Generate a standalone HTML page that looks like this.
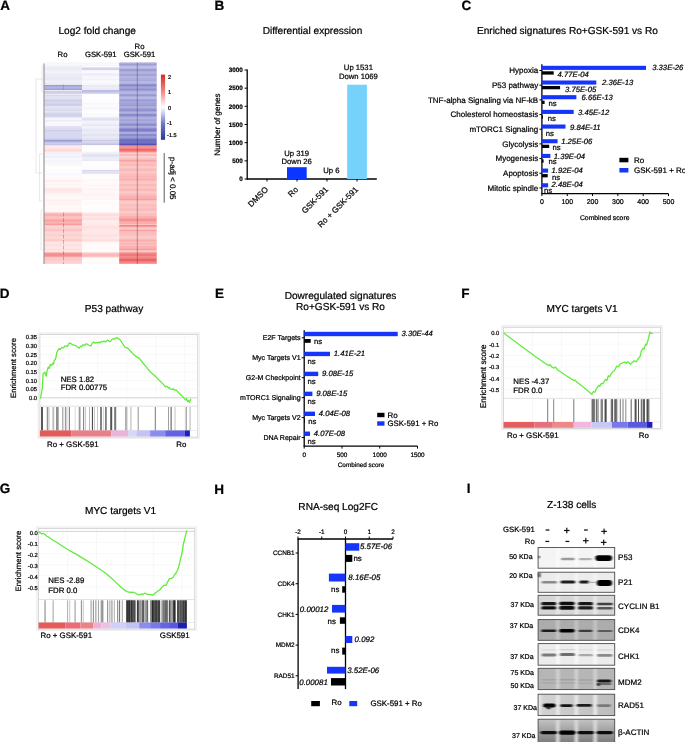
<!DOCTYPE html>
<html><head><meta charset="utf-8"><style>
html,body{margin:0;padding:0;background:#fff;}
svg{display:block;font-family:"Liberation Sans",sans-serif;will-change:transform;}
text{stroke:#000;stroke-width:0.22px;text-rendering:geometricPrecision;}
</style></head><body>
<svg width="685" height="742" viewBox="0 0 685 742">
<rect width="685" height="742" fill="#fff"/>
<text x="0.20" y="10.00" font-size="13.5" font-weight="bold">A</text>
<text x="214.40" y="10.20" font-size="13.5" font-weight="bold">B</text>
<text x="461.60" y="10.40" font-size="13.5" font-weight="bold">C</text>
<text x="-0.20" y="298.00" font-size="13.5" font-weight="bold">D</text>
<text x="214.90" y="297.80" font-size="13.5" font-weight="bold">E</text>
<text x="461.20" y="297.80" font-size="13.5" font-weight="bold">F</text>
<text x="-0.20" y="493.30" font-size="13.5" font-weight="bold">G</text>
<text x="214.30" y="493.50" font-size="13.5" font-weight="bold">H</text>
<text x="466.70" y="492.70" font-size="13.5" font-weight="bold">I</text>
<text x="97.20" y="33.84" font-size="10.1" text-anchor="middle">Log2 fold change</text>
<text x="62.50" y="57.30" font-size="7.7" text-anchor="middle">Ro</text>
<text x="100.80" y="57.30" font-size="7.7" text-anchor="middle">GSK-591</text>
<text x="139.50" y="48.59" font-size="7.7" text-anchor="middle">Ro</text>
<text x="139.50" y="57.30" font-size="7.7" text-anchor="middle">GSK-591</text>
<rect x="44.40" y="62.50" width="37.60" height="1.30" fill="#f6f6fb"/>
<rect x="44.40" y="63.75" width="37.60" height="1.30" fill="#f8f8fc"/>
<rect x="44.40" y="65.00" width="37.60" height="1.30" fill="#f6f6fb"/>
<rect x="44.40" y="66.25" width="37.60" height="1.30" fill="#eaeaf6"/>
<rect x="44.40" y="67.50" width="37.60" height="1.30" fill="#e8e8f5"/>
<rect x="44.40" y="68.75" width="37.60" height="1.30" fill="#eaeaf6"/>
<rect x="44.40" y="70.00" width="37.60" height="1.30" fill="#f2f2f9"/>
<rect x="44.40" y="71.25" width="37.60" height="1.30" fill="#f0f0f9"/>
<rect x="44.40" y="72.50" width="37.60" height="1.30" fill="#ededf8"/>
<rect x="44.40" y="73.75" width="37.60" height="1.30" fill="#ebebf7"/>
<rect x="44.40" y="75.00" width="37.60" height="1.30" fill="#ececf7"/>
<rect x="44.40" y="76.25" width="37.60" height="1.30" fill="#e7e7f5"/>
<rect x="44.40" y="77.50" width="37.60" height="1.30" fill="#e2e2f3"/>
<rect x="44.40" y="78.75" width="37.60" height="1.30" fill="#e9e9f6"/>
<rect x="44.40" y="80.00" width="37.60" height="1.30" fill="#ececf7"/>
<rect x="44.40" y="81.25" width="37.60" height="1.30" fill="#ececf7"/>
<rect x="44.40" y="82.50" width="37.60" height="1.30" fill="#e6e6f5"/>
<rect x="44.40" y="83.75" width="37.60" height="1.30" fill="#e6e6f5"/>
<rect x="44.40" y="85.00" width="37.60" height="1.30" fill="#9b9bd6"/>
<rect x="44.40" y="86.25" width="37.60" height="1.30" fill="#9d9dd6"/>
<rect x="44.40" y="87.50" width="37.60" height="1.30" fill="#a1a1d8"/>
<rect x="44.40" y="88.75" width="37.60" height="1.30" fill="#9f9fd7"/>
<rect x="44.40" y="90.00" width="37.60" height="1.30" fill="#ececf7"/>
<rect x="44.40" y="91.25" width="37.60" height="1.30" fill="#bebee4"/>
<rect x="44.40" y="92.50" width="37.60" height="1.30" fill="#c3c3e6"/>
<rect x="44.40" y="93.75" width="37.60" height="1.30" fill="#ececf7"/>
<rect x="44.40" y="95.00" width="37.60" height="1.30" fill="#d7d7ee"/>
<rect x="44.40" y="96.25" width="37.60" height="1.30" fill="#ddddf1"/>
<rect x="44.40" y="97.50" width="37.60" height="1.30" fill="#dadaf0"/>
<rect x="44.40" y="98.75" width="37.60" height="1.30" fill="#dcdcf0"/>
<rect x="44.40" y="100.00" width="37.60" height="1.30" fill="#cbcbe9"/>
<rect x="44.40" y="101.25" width="37.60" height="1.30" fill="#cacae9"/>
<rect x="44.40" y="102.50" width="37.60" height="1.30" fill="#ccccea"/>
<rect x="44.40" y="103.75" width="37.60" height="1.30" fill="#cdcdea"/>
<rect x="44.40" y="105.00" width="37.60" height="1.30" fill="#d1d1ec"/>
<rect x="44.40" y="106.25" width="37.60" height="1.30" fill="#dedef1"/>
<rect x="44.40" y="107.50" width="37.60" height="1.30" fill="#dcdcf0"/>
<rect x="44.40" y="108.75" width="37.60" height="1.30" fill="#dadaf0"/>
<rect x="44.40" y="110.00" width="37.60" height="1.30" fill="#dbdbf0"/>
<rect x="44.40" y="111.25" width="37.60" height="1.30" fill="#e0e0f2"/>
<rect x="44.40" y="112.50" width="37.60" height="1.30" fill="#cdcdea"/>
<rect x="44.40" y="113.75" width="37.60" height="1.30" fill="#d2d2ec"/>
<rect x="44.40" y="115.00" width="37.60" height="1.30" fill="#d3d3ed"/>
<rect x="44.40" y="116.25" width="37.60" height="1.30" fill="#c9c9e9"/>
<rect x="44.40" y="117.50" width="37.60" height="1.30" fill="#f1f1f9"/>
<rect x="44.40" y="118.75" width="37.60" height="1.30" fill="#f5f5fb"/>
<rect x="44.40" y="120.00" width="37.60" height="1.30" fill="#ececf7"/>
<rect x="44.40" y="121.25" width="37.60" height="1.30" fill="#f0f0f9"/>
<rect x="44.40" y="122.50" width="37.60" height="1.30" fill="#f7f7fb"/>
<rect x="44.40" y="123.75" width="37.60" height="1.30" fill="#f5f5fb"/>
<rect x="44.40" y="125.00" width="37.60" height="1.30" fill="#f8f8fc"/>
<rect x="44.40" y="126.25" width="37.60" height="1.30" fill="#d9d9ef"/>
<rect x="44.40" y="127.50" width="37.60" height="1.30" fill="#d5d5ed"/>
<rect x="44.40" y="128.75" width="37.60" height="1.30" fill="#dbdbf0"/>
<rect x="44.40" y="130.00" width="37.60" height="1.30" fill="#ccccea"/>
<rect x="44.40" y="131.25" width="37.60" height="1.30" fill="#cdcdea"/>
<rect x="44.40" y="132.50" width="37.60" height="1.30" fill="#cfcfeb"/>
<rect x="44.40" y="133.75" width="37.60" height="1.30" fill="#d8d8ef"/>
<rect x="44.40" y="135.00" width="37.60" height="1.30" fill="#d7d7ee"/>
<rect x="44.40" y="136.25" width="37.60" height="1.30" fill="#d0d0eb"/>
<rect x="44.40" y="137.50" width="37.60" height="1.30" fill="#cbcbea"/>
<rect x="44.40" y="138.75" width="37.60" height="1.30" fill="#c5c5e7"/>
<rect x="44.40" y="140.00" width="37.60" height="1.30" fill="#9d9dd6"/>
<rect x="44.40" y="141.25" width="37.60" height="1.30" fill="#9999d5"/>
<rect x="44.40" y="142.50" width="37.60" height="1.30" fill="#c4c4e6"/>
<rect x="44.40" y="143.75" width="37.60" height="1.30" fill="#c6c6e7"/>
<rect x="44.40" y="145.00" width="37.60" height="1.30" fill="#fedada"/>
<rect x="44.40" y="146.25" width="37.60" height="1.30" fill="#ffe6e6"/>
<rect x="44.40" y="147.50" width="37.60" height="1.30" fill="#fee4e4"/>
<rect x="44.40" y="148.75" width="37.60" height="1.30" fill="#fedede"/>
<rect x="44.40" y="150.00" width="37.60" height="1.30" fill="#fed9d9"/>
<rect x="44.40" y="151.25" width="37.60" height="1.30" fill="#fedddd"/>
<rect x="44.40" y="152.50" width="37.60" height="1.30" fill="#f2f2f9"/>
<rect x="44.40" y="153.75" width="37.60" height="1.30" fill="#f0f0f9"/>
<rect x="44.40" y="155.00" width="37.60" height="1.30" fill="#f8f8fc"/>
<rect x="44.40" y="156.25" width="37.60" height="1.30" fill="#e8e8f6"/>
<rect x="44.40" y="157.50" width="37.60" height="1.30" fill="#f4f4fa"/>
<rect x="44.40" y="158.75" width="37.60" height="1.30" fill="#f9f9fd"/>
<rect x="44.40" y="160.00" width="37.60" height="1.30" fill="#f4f4fb"/>
<rect x="44.40" y="161.25" width="37.60" height="1.30" fill="#f2f2fa"/>
<rect x="44.40" y="162.50" width="37.60" height="1.30" fill="#f7f7fc"/>
<rect x="44.40" y="163.75" width="37.60" height="1.30" fill="#f8f8fc"/>
<rect x="44.40" y="165.00" width="37.60" height="1.30" fill="#fbfbfd"/>
<rect x="44.40" y="166.25" width="37.60" height="1.30" fill="#fffefe"/>
<rect x="44.40" y="167.50" width="37.60" height="1.30" fill="#fffefe"/>
<rect x="44.40" y="168.75" width="37.60" height="1.30" fill="#fffefe"/>
<rect x="44.40" y="170.00" width="37.60" height="1.30" fill="#fbfbfd"/>
<rect x="44.40" y="171.25" width="37.60" height="1.30" fill="#fffcfc"/>
<rect x="44.40" y="172.50" width="37.60" height="1.30" fill="#f9f9fd"/>
<rect x="44.40" y="173.75" width="37.60" height="1.30" fill="#f8f8fc"/>
<rect x="44.40" y="175.00" width="37.60" height="1.30" fill="#fffbfb"/>
<rect x="44.40" y="176.25" width="37.60" height="1.30" fill="#fff8f8"/>
<rect x="44.40" y="177.50" width="37.60" height="1.30" fill="#fff5f5"/>
<rect x="44.40" y="178.75" width="37.60" height="1.30" fill="#fffafa"/>
<rect x="44.40" y="180.00" width="37.60" height="1.30" fill="#ffefef"/>
<rect x="44.40" y="181.25" width="37.60" height="1.30" fill="#ffeded"/>
<rect x="44.40" y="182.50" width="37.60" height="1.30" fill="#fff9f9"/>
<rect x="44.40" y="183.75" width="37.60" height="1.30" fill="#fff3f3"/>
<rect x="44.40" y="185.00" width="37.60" height="1.30" fill="#fff5f5"/>
<rect x="44.40" y="186.25" width="37.60" height="1.30" fill="#fff7f7"/>
<rect x="44.40" y="187.50" width="37.60" height="1.30" fill="#ffe7e7"/>
<rect x="44.40" y="188.75" width="37.60" height="1.30" fill="#ffe6e6"/>
<rect x="44.40" y="190.00" width="37.60" height="1.30" fill="#ffe7e7"/>
<rect x="44.40" y="191.25" width="37.60" height="1.30" fill="#fee5e5"/>
<rect x="44.40" y="192.50" width="37.60" height="1.30" fill="#ffe9e9"/>
<rect x="44.40" y="193.75" width="37.60" height="1.30" fill="#fff7f7"/>
<rect x="44.40" y="195.00" width="37.60" height="1.30" fill="#fff4f4"/>
<rect x="44.40" y="196.25" width="37.60" height="1.30" fill="#fff6f6"/>
<rect x="44.40" y="197.50" width="37.60" height="1.30" fill="#fff8f8"/>
<rect x="44.40" y="198.75" width="37.60" height="1.30" fill="#fff4f4"/>
<rect x="44.40" y="200.00" width="37.60" height="1.30" fill="#ffefef"/>
<rect x="44.40" y="201.25" width="37.60" height="1.30" fill="#fff3f3"/>
<rect x="44.40" y="202.50" width="37.60" height="1.30" fill="#fff5f5"/>
<rect x="44.40" y="203.75" width="37.60" height="1.30" fill="#fff2f2"/>
<rect x="44.40" y="205.00" width="37.60" height="1.30" fill="#fff7f7"/>
<rect x="44.40" y="206.25" width="37.60" height="1.30" fill="#fff7f7"/>
<rect x="44.40" y="207.50" width="37.60" height="1.30" fill="#fff3f3"/>
<rect x="44.40" y="208.75" width="37.60" height="1.30" fill="#fff9f9"/>
<rect x="44.40" y="210.00" width="37.60" height="1.30" fill="#fff4f4"/>
<rect x="44.40" y="211.25" width="37.60" height="1.30" fill="#fff9f9"/>
<rect x="44.40" y="212.50" width="37.60" height="1.30" fill="#fbb7b7"/>
<rect x="44.40" y="213.75" width="37.60" height="1.30" fill="#fab1b1"/>
<rect x="44.40" y="215.00" width="37.60" height="1.30" fill="#fab0b0"/>
<rect x="44.40" y="216.25" width="37.60" height="1.30" fill="#fab1b1"/>
<rect x="44.40" y="217.50" width="37.60" height="1.30" fill="#fbb2b2"/>
<rect x="44.40" y="218.75" width="37.60" height="1.30" fill="#fbb3b3"/>
<rect x="44.40" y="220.00" width="37.60" height="1.30" fill="#f89e9e"/>
<rect x="44.40" y="221.25" width="37.60" height="1.30" fill="#f89c9c"/>
<rect x="44.40" y="222.50" width="37.60" height="1.30" fill="#f89f9f"/>
<rect x="44.40" y="223.75" width="37.60" height="1.30" fill="#f89d9d"/>
<rect x="44.40" y="225.00" width="37.60" height="1.30" fill="#fdc7c7"/>
<rect x="44.40" y="226.25" width="37.60" height="1.30" fill="#fdc9c9"/>
<rect x="44.40" y="227.50" width="37.60" height="1.30" fill="#fdc6c6"/>
<rect x="44.40" y="228.75" width="37.60" height="1.30" fill="#fdc7c7"/>
<rect x="44.40" y="230.00" width="37.60" height="1.30" fill="#fcc2c2"/>
<rect x="44.40" y="231.25" width="37.60" height="1.30" fill="#fdc8c8"/>
<rect x="44.40" y="232.50" width="37.60" height="1.30" fill="#fdd0d0"/>
<rect x="44.40" y="233.75" width="37.60" height="1.30" fill="#fdd0d0"/>
<rect x="44.40" y="235.00" width="37.60" height="1.30" fill="#fdcfcf"/>
<rect x="44.40" y="236.25" width="37.60" height="1.30" fill="#fdcbcb"/>
<rect x="44.40" y="237.50" width="37.60" height="1.30" fill="#fdd0d0"/>
<rect x="44.40" y="238.75" width="37.60" height="1.30" fill="#fdcdcd"/>
<rect x="44.40" y="240.00" width="37.60" height="1.30" fill="#fdc8c8"/>
<rect x="44.40" y="241.25" width="37.60" height="1.30" fill="#fed8d8"/>
<rect x="44.40" y="242.50" width="37.60" height="1.30" fill="#fee3e3"/>
<rect x="44.40" y="243.75" width="37.60" height="1.30" fill="#fee0e0"/>
<rect x="44.40" y="245.00" width="37.60" height="1.30" fill="#fee0e0"/>
<rect x="44.40" y="246.25" width="37.60" height="1.30" fill="#fee0e0"/>
<rect x="44.40" y="247.50" width="37.60" height="1.30" fill="#fee2e2"/>
<rect x="44.40" y="248.75" width="37.60" height="1.30" fill="#fedfdf"/>
<rect x="44.40" y="250.00" width="37.60" height="1.30" fill="#fee0e0"/>
<rect x="44.40" y="251.25" width="37.60" height="1.30" fill="#fee2e2"/>
<rect x="44.40" y="252.50" width="37.60" height="1.30" fill="#f48585"/>
<rect x="44.40" y="253.75" width="37.60" height="1.30" fill="#f58d8d"/>
<rect x="44.40" y="255.00" width="37.60" height="1.30" fill="#f69090"/>
<rect x="44.40" y="256.25" width="37.60" height="1.30" fill="#f58e8e"/>
<rect x="44.40" y="257.50" width="37.60" height="1.30" fill="#fcc5c5"/>
<rect x="44.40" y="258.75" width="37.60" height="1.30" fill="#fcc4c4"/>
<rect x="44.40" y="260.00" width="37.60" height="1.30" fill="#fdcece"/>
<rect x="44.40" y="261.25" width="37.60" height="1.30" fill="#fdc6c6"/>
<rect x="44.40" y="262.50" width="37.60" height="1.30" fill="#fcc0c0"/>
<rect x="44.40" y="263.75" width="37.60" height="0.30" fill="#fcfcfe"/>
<rect x="82.00" y="62.50" width="37.20" height="1.30" fill="#f5f5fb"/>
<rect x="82.00" y="63.75" width="37.20" height="1.30" fill="#f8f8fc"/>
<rect x="82.00" y="65.00" width="37.20" height="1.30" fill="#f8f8fc"/>
<rect x="82.00" y="66.25" width="37.20" height="1.30" fill="#fafafd"/>
<rect x="82.00" y="67.50" width="37.20" height="1.30" fill="#cbcbe9"/>
<rect x="82.00" y="68.75" width="37.20" height="1.30" fill="#d2d2ec"/>
<rect x="82.00" y="70.00" width="37.20" height="1.30" fill="#f5f5fb"/>
<rect x="82.00" y="71.25" width="37.20" height="1.30" fill="#f7f7fc"/>
<rect x="82.00" y="72.50" width="37.20" height="1.30" fill="#f4f4fb"/>
<rect x="82.00" y="73.75" width="37.20" height="1.30" fill="#eaeaf6"/>
<rect x="82.00" y="75.00" width="37.20" height="1.30" fill="#f4f4fb"/>
<rect x="82.00" y="76.25" width="37.20" height="1.30" fill="#f1f1f9"/>
<rect x="82.00" y="77.50" width="37.20" height="1.30" fill="#f7f7fc"/>
<rect x="82.00" y="78.75" width="37.20" height="1.30" fill="#f1f1f9"/>
<rect x="82.00" y="80.00" width="37.20" height="1.30" fill="#f7f7fc"/>
<rect x="82.00" y="81.25" width="37.20" height="1.30" fill="#fafafd"/>
<rect x="82.00" y="82.50" width="37.20" height="1.30" fill="#f6f6fb"/>
<rect x="82.00" y="83.75" width="37.20" height="1.30" fill="#f6f6fb"/>
<rect x="82.00" y="85.00" width="37.20" height="1.30" fill="#e9e9f6"/>
<rect x="82.00" y="86.25" width="37.20" height="1.30" fill="#e7e7f5"/>
<rect x="82.00" y="87.50" width="37.20" height="1.30" fill="#e6e6f5"/>
<rect x="82.00" y="88.75" width="37.20" height="1.30" fill="#ebebf7"/>
<rect x="82.00" y="90.00" width="37.20" height="1.30" fill="#b9b9e2"/>
<rect x="82.00" y="91.25" width="37.20" height="1.30" fill="#b2b2df"/>
<rect x="82.00" y="92.50" width="37.20" height="1.30" fill="#c1c1e5"/>
<rect x="82.00" y="93.75" width="37.20" height="1.30" fill="#fcfcfe"/>
<rect x="82.00" y="95.00" width="37.20" height="1.30" fill="#fffdfd"/>
<rect x="82.00" y="96.25" width="37.20" height="1.30" fill="#fefeff"/>
<rect x="82.00" y="97.50" width="37.20" height="1.30" fill="#ffffff"/>
<rect x="82.00" y="98.75" width="37.20" height="1.30" fill="#fffdfd"/>
<rect x="82.00" y="100.00" width="37.20" height="1.30" fill="#fcfcfe"/>
<rect x="82.00" y="101.25" width="37.20" height="1.30" fill="#fdfdfe"/>
<rect x="82.00" y="102.50" width="37.20" height="1.30" fill="#f7f7fc"/>
<rect x="82.00" y="103.75" width="37.20" height="1.30" fill="#f7f7fc"/>
<rect x="82.00" y="105.00" width="37.20" height="1.30" fill="#fdfdfe"/>
<rect x="82.00" y="106.25" width="37.20" height="1.30" fill="#f8f8fc"/>
<rect x="82.00" y="107.50" width="37.20" height="1.30" fill="#f8f8fc"/>
<rect x="82.00" y="108.75" width="37.20" height="1.30" fill="#f7f7fc"/>
<rect x="82.00" y="110.00" width="37.20" height="1.30" fill="#fefeff"/>
<rect x="82.00" y="111.25" width="37.20" height="1.30" fill="#fdfdfe"/>
<rect x="82.00" y="112.50" width="37.20" height="1.30" fill="#ffffff"/>
<rect x="82.00" y="113.75" width="37.20" height="1.30" fill="#f8f8fc"/>
<rect x="82.00" y="115.00" width="37.20" height="1.30" fill="#fbfbfd"/>
<rect x="82.00" y="116.25" width="37.20" height="1.30" fill="#f8f8fc"/>
<rect x="82.00" y="117.50" width="37.20" height="1.30" fill="#dedef1"/>
<rect x="82.00" y="118.75" width="37.20" height="1.30" fill="#e0e0f2"/>
<rect x="82.00" y="120.00" width="37.20" height="1.30" fill="#e9e9f6"/>
<rect x="82.00" y="121.25" width="37.20" height="1.30" fill="#f0f0f9"/>
<rect x="82.00" y="122.50" width="37.20" height="1.30" fill="#efeff8"/>
<rect x="82.00" y="123.75" width="37.20" height="1.30" fill="#ebebf7"/>
<rect x="82.00" y="125.00" width="37.20" height="1.30" fill="#e6e6f5"/>
<rect x="82.00" y="126.25" width="37.20" height="1.30" fill="#f0f0f9"/>
<rect x="82.00" y="127.50" width="37.20" height="1.30" fill="#ececf7"/>
<rect x="82.00" y="128.75" width="37.20" height="1.30" fill="#eaeaf6"/>
<rect x="82.00" y="130.00" width="37.20" height="1.30" fill="#e6e6f5"/>
<rect x="82.00" y="131.25" width="37.20" height="1.30" fill="#e6e6f5"/>
<rect x="82.00" y="132.50" width="37.20" height="1.30" fill="#e9e9f6"/>
<rect x="82.00" y="133.75" width="37.20" height="1.30" fill="#e2e2f3"/>
<rect x="82.00" y="135.00" width="37.20" height="1.30" fill="#e3e3f3"/>
<rect x="82.00" y="136.25" width="37.20" height="1.30" fill="#e4e4f4"/>
<rect x="82.00" y="137.50" width="37.20" height="1.30" fill="#e4e4f4"/>
<rect x="82.00" y="138.75" width="37.20" height="1.30" fill="#dfdff2"/>
<rect x="82.00" y="140.00" width="37.20" height="1.30" fill="#cacae9"/>
<rect x="82.00" y="141.25" width="37.20" height="1.30" fill="#d3d3ed"/>
<rect x="82.00" y="142.50" width="37.20" height="1.30" fill="#c2c2e6"/>
<rect x="82.00" y="143.75" width="37.20" height="1.30" fill="#c2c2e6"/>
<rect x="82.00" y="145.00" width="37.20" height="1.30" fill="#fff9f9"/>
<rect x="82.00" y="146.25" width="37.20" height="1.30" fill="#fffcfc"/>
<rect x="82.00" y="147.50" width="37.20" height="1.30" fill="#fdfdfe"/>
<rect x="82.00" y="148.75" width="37.20" height="1.30" fill="#fffdfd"/>
<rect x="82.00" y="150.00" width="37.20" height="1.30" fill="#fefeff"/>
<rect x="82.00" y="151.25" width="37.20" height="1.30" fill="#fffafa"/>
<rect x="82.00" y="152.50" width="37.20" height="1.30" fill="#eaeaf6"/>
<rect x="82.00" y="153.75" width="37.20" height="1.30" fill="#e7e7f5"/>
<rect x="82.00" y="155.00" width="37.20" height="1.30" fill="#dedef1"/>
<rect x="82.00" y="156.25" width="37.20" height="1.30" fill="#e0e0f2"/>
<rect x="82.00" y="157.50" width="37.20" height="1.30" fill="#e9e9f6"/>
<rect x="82.00" y="158.75" width="37.20" height="1.30" fill="#ededf7"/>
<rect x="82.00" y="160.00" width="37.20" height="1.30" fill="#e9e9f6"/>
<rect x="82.00" y="161.25" width="37.20" height="1.30" fill="#fffdfd"/>
<rect x="82.00" y="162.50" width="37.20" height="1.30" fill="#fffcfc"/>
<rect x="82.00" y="163.75" width="37.20" height="1.30" fill="#fffcfc"/>
<rect x="82.00" y="165.00" width="37.20" height="1.30" fill="#fdfdfe"/>
<rect x="82.00" y="166.25" width="37.20" height="1.30" fill="#fffdfd"/>
<rect x="82.00" y="167.50" width="37.20" height="1.30" fill="#fafafd"/>
<rect x="82.00" y="168.75" width="37.20" height="1.30" fill="#fcfcfe"/>
<rect x="82.00" y="170.00" width="37.20" height="1.30" fill="#d6d6ee"/>
<rect x="82.00" y="171.25" width="37.20" height="1.30" fill="#dedef1"/>
<rect x="82.00" y="172.50" width="37.20" height="1.30" fill="#d8d8ef"/>
<rect x="82.00" y="173.75" width="37.20" height="1.30" fill="#fffbfb"/>
<rect x="82.00" y="175.00" width="37.20" height="1.30" fill="#fffbfb"/>
<rect x="82.00" y="176.25" width="37.20" height="1.30" fill="#fffbfb"/>
<rect x="82.00" y="177.50" width="37.20" height="1.30" fill="#fffcfc"/>
<rect x="82.00" y="178.75" width="37.20" height="1.30" fill="#fffafa"/>
<rect x="82.00" y="180.00" width="37.20" height="1.30" fill="#fff7f7"/>
<rect x="82.00" y="181.25" width="37.20" height="1.30" fill="#fffbfb"/>
<rect x="82.00" y="182.50" width="37.20" height="1.30" fill="#fffafa"/>
<rect x="82.00" y="183.75" width="37.20" height="1.30" fill="#fff9f9"/>
<rect x="82.00" y="185.00" width="37.20" height="1.30" fill="#fff5f5"/>
<rect x="82.00" y="186.25" width="37.20" height="1.30" fill="#fff7f7"/>
<rect x="82.00" y="187.50" width="37.20" height="1.30" fill="#fff5f5"/>
<rect x="82.00" y="188.75" width="37.20" height="1.30" fill="#fff2f2"/>
<rect x="82.00" y="190.00" width="37.20" height="1.30" fill="#fff8f8"/>
<rect x="82.00" y="191.25" width="37.20" height="1.30" fill="#fff6f6"/>
<rect x="82.00" y="192.50" width="37.20" height="1.30" fill="#fff2f2"/>
<rect x="82.00" y="193.75" width="37.20" height="1.30" fill="#fff3f3"/>
<rect x="82.00" y="195.00" width="37.20" height="1.30" fill="#fff4f4"/>
<rect x="82.00" y="196.25" width="37.20" height="1.30" fill="#fff3f3"/>
<rect x="82.00" y="197.50" width="37.20" height="1.30" fill="#fff4f4"/>
<rect x="82.00" y="198.75" width="37.20" height="1.30" fill="#fff7f7"/>
<rect x="82.00" y="200.00" width="37.20" height="1.30" fill="#fffdfd"/>
<rect x="82.00" y="201.25" width="37.20" height="1.30" fill="#fffbfb"/>
<rect x="82.00" y="202.50" width="37.20" height="1.30" fill="#fff8f8"/>
<rect x="82.00" y="203.75" width="37.20" height="1.30" fill="#fffbfb"/>
<rect x="82.00" y="205.00" width="37.20" height="1.30" fill="#fffcfc"/>
<rect x="82.00" y="206.25" width="37.20" height="1.30" fill="#fffbfb"/>
<rect x="82.00" y="207.50" width="37.20" height="1.30" fill="#fffdfd"/>
<rect x="82.00" y="208.75" width="37.20" height="1.30" fill="#fffafa"/>
<rect x="82.00" y="210.00" width="37.20" height="1.30" fill="#fffcfc"/>
<rect x="82.00" y="211.25" width="37.20" height="1.30" fill="#fff9f9"/>
<rect x="82.00" y="212.50" width="37.20" height="1.30" fill="#ffe5e5"/>
<rect x="82.00" y="213.75" width="37.20" height="1.30" fill="#fedbdb"/>
<rect x="82.00" y="215.00" width="37.20" height="1.30" fill="#fedfdf"/>
<rect x="82.00" y="216.25" width="37.20" height="1.30" fill="#fee4e4"/>
<rect x="82.00" y="217.50" width="37.20" height="1.30" fill="#fedada"/>
<rect x="82.00" y="218.75" width="37.20" height="1.30" fill="#fedede"/>
<rect x="82.00" y="220.00" width="37.20" height="1.30" fill="#ffecec"/>
<rect x="82.00" y="221.25" width="37.20" height="1.30" fill="#ffe9e9"/>
<rect x="82.00" y="222.50" width="37.20" height="1.30" fill="#ffe7e7"/>
<rect x="82.00" y="223.75" width="37.20" height="1.30" fill="#ffe8e8"/>
<rect x="82.00" y="225.00" width="37.20" height="1.30" fill="#ffe6e6"/>
<rect x="82.00" y="226.25" width="37.20" height="1.30" fill="#fedada"/>
<rect x="82.00" y="227.50" width="37.20" height="1.30" fill="#fedada"/>
<rect x="82.00" y="228.75" width="37.20" height="1.30" fill="#ffe7e7"/>
<rect x="82.00" y="230.00" width="37.20" height="1.30" fill="#fee4e4"/>
<rect x="82.00" y="231.25" width="37.20" height="1.30" fill="#ffe6e6"/>
<rect x="82.00" y="232.50" width="37.20" height="1.30" fill="#fee0e0"/>
<rect x="82.00" y="233.75" width="37.20" height="1.30" fill="#ffe5e5"/>
<rect x="82.00" y="235.00" width="37.20" height="1.30" fill="#fedfdf"/>
<rect x="82.00" y="236.25" width="37.20" height="1.30" fill="#fedede"/>
<rect x="82.00" y="237.50" width="37.20" height="1.30" fill="#fee2e2"/>
<rect x="82.00" y="238.75" width="37.20" height="1.30" fill="#fee2e2"/>
<rect x="82.00" y="240.00" width="37.20" height="1.30" fill="#fedddd"/>
<rect x="82.00" y="241.25" width="37.20" height="1.30" fill="#fee5e5"/>
<rect x="82.00" y="242.50" width="37.20" height="1.30" fill="#fffbfb"/>
<rect x="82.00" y="243.75" width="37.20" height="1.30" fill="#fff7f7"/>
<rect x="82.00" y="245.00" width="37.20" height="1.30" fill="#fffefe"/>
<rect x="82.00" y="246.25" width="37.20" height="1.30" fill="#fffafa"/>
<rect x="82.00" y="247.50" width="37.20" height="1.30" fill="#fff8f8"/>
<rect x="82.00" y="248.75" width="37.20" height="1.30" fill="#fffcfc"/>
<rect x="82.00" y="250.00" width="37.20" height="1.30" fill="#fffbfb"/>
<rect x="82.00" y="251.25" width="37.20" height="1.30" fill="#fffafa"/>
<rect x="82.00" y="252.50" width="37.20" height="1.30" fill="#fcbdbd"/>
<rect x="82.00" y="253.75" width="37.20" height="1.30" fill="#fbb9b9"/>
<rect x="82.00" y="255.00" width="37.20" height="1.30" fill="#fbb8b8"/>
<rect x="82.00" y="256.25" width="37.20" height="1.30" fill="#fbb6b6"/>
<rect x="82.00" y="257.50" width="37.20" height="1.30" fill="#fffafa"/>
<rect x="82.00" y="258.75" width="37.20" height="1.30" fill="#fffafa"/>
<rect x="82.00" y="260.00" width="37.20" height="1.30" fill="#fffcfc"/>
<rect x="82.00" y="261.25" width="37.20" height="1.30" fill="#fffafa"/>
<rect x="82.00" y="262.50" width="37.20" height="1.30" fill="#fff8f8"/>
<rect x="82.00" y="263.75" width="37.20" height="0.30" fill="#ffffff"/>
<rect x="119.20" y="62.50" width="37.50" height="1.30" fill="#9e9ed7"/>
<rect x="119.20" y="63.75" width="37.50" height="1.30" fill="#9e9ed7"/>
<rect x="119.20" y="65.00" width="37.50" height="1.30" fill="#afafde"/>
<rect x="119.20" y="66.25" width="37.50" height="1.30" fill="#b0b0de"/>
<rect x="119.20" y="67.50" width="37.50" height="1.30" fill="#adaddd"/>
<rect x="119.20" y="68.75" width="37.50" height="1.30" fill="#9e9ed7"/>
<rect x="119.20" y="70.00" width="37.50" height="1.30" fill="#9d9dd6"/>
<rect x="119.20" y="71.25" width="37.50" height="1.30" fill="#9c9cd6"/>
<rect x="119.20" y="72.50" width="37.50" height="1.30" fill="#a2a2d8"/>
<rect x="119.20" y="73.75" width="37.50" height="1.30" fill="#a4a4d9"/>
<rect x="119.20" y="75.00" width="37.50" height="1.30" fill="#a2a2d8"/>
<rect x="119.20" y="76.25" width="37.50" height="1.30" fill="#a5a5da"/>
<rect x="119.20" y="77.50" width="37.50" height="1.30" fill="#9e9ed7"/>
<rect x="119.20" y="78.75" width="37.50" height="1.30" fill="#acacdd"/>
<rect x="119.20" y="80.00" width="37.50" height="1.30" fill="#a9a9db"/>
<rect x="119.20" y="81.25" width="37.50" height="1.30" fill="#a4a4d9"/>
<rect x="119.20" y="82.50" width="37.50" height="1.30" fill="#a8a8db"/>
<rect x="119.20" y="83.75" width="37.50" height="1.30" fill="#9595d3"/>
<rect x="119.20" y="85.00" width="37.50" height="1.30" fill="#8585cd"/>
<rect x="119.20" y="86.25" width="37.50" height="1.30" fill="#8989ce"/>
<rect x="119.20" y="87.50" width="37.50" height="1.30" fill="#8e8ed0"/>
<rect x="119.20" y="88.75" width="37.50" height="1.30" fill="#8d8dd0"/>
<rect x="119.20" y="90.00" width="37.50" height="1.30" fill="#a0a0d8"/>
<rect x="119.20" y="91.25" width="37.50" height="1.30" fill="#9d9dd7"/>
<rect x="119.20" y="92.50" width="37.50" height="1.30" fill="#a7a7da"/>
<rect x="119.20" y="93.75" width="37.50" height="1.30" fill="#a2a2d8"/>
<rect x="119.20" y="95.00" width="37.50" height="1.30" fill="#9797d4"/>
<rect x="119.20" y="96.25" width="37.50" height="1.30" fill="#9c9cd6"/>
<rect x="119.20" y="97.50" width="37.50" height="1.30" fill="#aaaadc"/>
<rect x="119.20" y="98.75" width="37.50" height="1.30" fill="#a7a7da"/>
<rect x="119.20" y="100.00" width="37.50" height="1.30" fill="#9898d4"/>
<rect x="119.20" y="101.25" width="37.50" height="1.30" fill="#9393d2"/>
<rect x="119.20" y="102.50" width="37.50" height="1.30" fill="#8b8bcf"/>
<rect x="119.20" y="103.75" width="37.50" height="1.30" fill="#a3a3d9"/>
<rect x="119.20" y="105.00" width="37.50" height="1.30" fill="#9898d4"/>
<rect x="119.20" y="106.25" width="37.50" height="1.30" fill="#9e9ed7"/>
<rect x="119.20" y="107.50" width="37.50" height="1.30" fill="#9191d2"/>
<rect x="119.20" y="108.75" width="37.50" height="1.30" fill="#9494d3"/>
<rect x="119.20" y="110.00" width="37.50" height="1.30" fill="#8e8ed0"/>
<rect x="119.20" y="111.25" width="37.50" height="1.30" fill="#9191d1"/>
<rect x="119.20" y="112.50" width="37.50" height="1.30" fill="#a4a4d9"/>
<rect x="119.20" y="113.75" width="37.50" height="1.30" fill="#8989ce"/>
<rect x="119.20" y="115.00" width="37.50" height="1.30" fill="#8a8ace"/>
<rect x="119.20" y="116.25" width="37.50" height="1.30" fill="#8888ce"/>
<rect x="119.20" y="117.50" width="37.50" height="1.30" fill="#a1a1d8"/>
<rect x="119.20" y="118.75" width="37.50" height="1.30" fill="#a6a6da"/>
<rect x="119.20" y="120.00" width="37.50" height="1.30" fill="#a2a2d9"/>
<rect x="119.20" y="121.25" width="37.50" height="1.30" fill="#9e9ed7"/>
<rect x="119.20" y="122.50" width="37.50" height="1.30" fill="#8989ce"/>
<rect x="119.20" y="123.75" width="37.50" height="1.30" fill="#8c8ccf"/>
<rect x="119.20" y="125.00" width="37.50" height="1.30" fill="#8c8ccf"/>
<rect x="119.20" y="126.25" width="37.50" height="1.30" fill="#a3a3d9"/>
<rect x="119.20" y="127.50" width="37.50" height="1.30" fill="#7d7dc9"/>
<rect x="119.20" y="128.75" width="37.50" height="1.30" fill="#7e7eca"/>
<rect x="119.20" y="130.00" width="37.50" height="1.30" fill="#7d7dc9"/>
<rect x="119.20" y="131.25" width="37.50" height="1.30" fill="#7777c7"/>
<rect x="119.20" y="132.50" width="37.50" height="1.30" fill="#a4a4d9"/>
<rect x="119.20" y="133.75" width="37.50" height="1.30" fill="#8c8ccf"/>
<rect x="119.20" y="135.00" width="37.50" height="1.30" fill="#8989ce"/>
<rect x="119.20" y="136.25" width="37.50" height="1.30" fill="#8686cd"/>
<rect x="119.20" y="137.50" width="37.50" height="1.30" fill="#7878c7"/>
<rect x="119.20" y="138.75" width="37.50" height="1.30" fill="#7272c4"/>
<rect x="119.20" y="140.00" width="37.50" height="1.30" fill="#6d6dc3"/>
<rect x="119.20" y="141.25" width="37.50" height="1.30" fill="#4e4eb5"/>
<rect x="119.20" y="142.50" width="37.50" height="1.30" fill="#4949b3"/>
<rect x="119.20" y="143.75" width="37.50" height="1.30" fill="#5151b7"/>
<rect x="119.20" y="145.00" width="37.50" height="1.30" fill="#f07272"/>
<rect x="119.20" y="146.25" width="37.50" height="1.30" fill="#f17878"/>
<rect x="119.20" y="147.50" width="37.50" height="1.30" fill="#f07272"/>
<rect x="119.20" y="148.75" width="37.50" height="1.30" fill="#ee6868"/>
<rect x="119.20" y="150.00" width="37.50" height="1.30" fill="#ef6f6f"/>
<rect x="119.20" y="151.25" width="37.50" height="1.30" fill="#f07373"/>
<rect x="119.20" y="152.50" width="37.50" height="1.30" fill="#fcbfbf"/>
<rect x="119.20" y="153.75" width="37.50" height="1.30" fill="#fbbaba"/>
<rect x="119.20" y="155.00" width="37.50" height="1.30" fill="#fbbaba"/>
<rect x="119.20" y="156.25" width="37.50" height="1.30" fill="#fdc9c9"/>
<rect x="119.20" y="157.50" width="37.50" height="1.30" fill="#fbb7b7"/>
<rect x="119.20" y="158.75" width="37.50" height="1.30" fill="#fbbaba"/>
<rect x="119.20" y="160.00" width="37.50" height="1.30" fill="#f9a4a4"/>
<rect x="119.20" y="161.25" width="37.50" height="1.30" fill="#f8a1a1"/>
<rect x="119.20" y="162.50" width="37.50" height="1.30" fill="#fbb6b6"/>
<rect x="119.20" y="163.75" width="37.50" height="1.30" fill="#fbb9b9"/>
<rect x="119.20" y="165.00" width="37.50" height="1.30" fill="#fbb8b8"/>
<rect x="119.20" y="166.25" width="37.50" height="1.30" fill="#fcbcbc"/>
<rect x="119.20" y="167.50" width="37.50" height="1.30" fill="#fbb9b9"/>
<rect x="119.20" y="168.75" width="37.50" height="1.30" fill="#fbb5b5"/>
<rect x="119.20" y="170.00" width="37.50" height="1.30" fill="#fcbdbd"/>
<rect x="119.20" y="171.25" width="37.50" height="1.30" fill="#fbb8b8"/>
<rect x="119.20" y="172.50" width="37.50" height="1.30" fill="#fbbaba"/>
<rect x="119.20" y="173.75" width="37.50" height="1.30" fill="#fbb9b9"/>
<rect x="119.20" y="175.00" width="37.50" height="1.30" fill="#fcbdbd"/>
<rect x="119.20" y="176.25" width="37.50" height="1.30" fill="#f9a4a4"/>
<rect x="119.20" y="177.50" width="37.50" height="1.30" fill="#f9a9a9"/>
<rect x="119.20" y="178.75" width="37.50" height="1.30" fill="#faaeae"/>
<rect x="119.20" y="180.00" width="37.50" height="1.30" fill="#fcbcbc"/>
<rect x="119.20" y="181.25" width="37.50" height="1.30" fill="#fbb3b3"/>
<rect x="119.20" y="182.50" width="37.50" height="1.30" fill="#fcbebe"/>
<rect x="119.20" y="183.75" width="37.50" height="1.30" fill="#fbb9b9"/>
<rect x="119.20" y="185.00" width="37.50" height="1.30" fill="#fbb9b9"/>
<rect x="119.20" y="186.25" width="37.50" height="1.30" fill="#fbb4b4"/>
<rect x="119.20" y="187.50" width="37.50" height="1.30" fill="#fbb8b8"/>
<rect x="119.20" y="188.75" width="37.50" height="1.30" fill="#fbb3b3"/>
<rect x="119.20" y="190.00" width="37.50" height="1.30" fill="#fbbbbb"/>
<rect x="119.20" y="191.25" width="37.50" height="1.30" fill="#fbb8b8"/>
<rect x="119.20" y="192.50" width="37.50" height="1.30" fill="#fbb9b9"/>
<rect x="119.20" y="193.75" width="37.50" height="1.30" fill="#fcbcbc"/>
<rect x="119.20" y="195.00" width="37.50" height="1.30" fill="#fbb9b9"/>
<rect x="119.20" y="196.25" width="37.50" height="1.30" fill="#f89c9c"/>
<rect x="119.20" y="197.50" width="37.50" height="1.30" fill="#f89d9d"/>
<rect x="119.20" y="198.75" width="37.50" height="1.30" fill="#f89e9e"/>
<rect x="119.20" y="200.00" width="37.50" height="1.30" fill="#fcbdbd"/>
<rect x="119.20" y="201.25" width="37.50" height="1.30" fill="#fbbaba"/>
<rect x="119.20" y="202.50" width="37.50" height="1.30" fill="#fcc0c0"/>
<rect x="119.20" y="203.75" width="37.50" height="1.30" fill="#fcbfbf"/>
<rect x="119.20" y="205.00" width="37.50" height="1.30" fill="#fcbcbc"/>
<rect x="119.20" y="206.25" width="37.50" height="1.30" fill="#fbb5b5"/>
<rect x="119.20" y="207.50" width="37.50" height="1.30" fill="#fab1b1"/>
<rect x="119.20" y="208.75" width="37.50" height="1.30" fill="#fbb7b7"/>
<rect x="119.20" y="210.00" width="37.50" height="1.30" fill="#fcbfbf"/>
<rect x="119.20" y="211.25" width="37.50" height="1.30" fill="#fbbaba"/>
<rect x="119.20" y="212.50" width="37.50" height="1.30" fill="#fbbaba"/>
<rect x="119.20" y="213.75" width="37.50" height="1.30" fill="#fcbdbd"/>
<rect x="119.20" y="215.00" width="37.50" height="1.30" fill="#fcbdbd"/>
<rect x="119.20" y="216.25" width="37.50" height="1.30" fill="#f89e9e"/>
<rect x="119.20" y="217.50" width="37.50" height="1.30" fill="#f69292"/>
<rect x="119.20" y="218.75" width="37.50" height="1.30" fill="#f69292"/>
<rect x="119.20" y="220.00" width="37.50" height="1.30" fill="#f68f8f"/>
<rect x="119.20" y="221.25" width="37.50" height="1.30" fill="#f79797"/>
<rect x="119.20" y="222.50" width="37.50" height="1.30" fill="#f69494"/>
<rect x="119.20" y="223.75" width="37.50" height="1.30" fill="#fcc3c3"/>
<rect x="119.20" y="225.00" width="37.50" height="1.30" fill="#f48686"/>
<rect x="119.20" y="226.25" width="37.50" height="1.30" fill="#f48585"/>
<rect x="119.20" y="227.50" width="37.50" height="1.30" fill="#fcc3c3"/>
<rect x="119.20" y="228.75" width="37.50" height="1.30" fill="#fcbdbd"/>
<rect x="119.20" y="230.00" width="37.50" height="1.30" fill="#f8a1a1"/>
<rect x="119.20" y="231.25" width="37.50" height="1.30" fill="#faaaaa"/>
<rect x="119.20" y="232.50" width="37.50" height="1.30" fill="#faaaaa"/>
<rect x="119.20" y="233.75" width="37.50" height="1.30" fill="#fcc0c0"/>
<rect x="119.20" y="235.00" width="37.50" height="1.30" fill="#fcbfbf"/>
<rect x="119.20" y="236.25" width="37.50" height="1.30" fill="#fcc2c2"/>
<rect x="119.20" y="237.50" width="37.50" height="1.30" fill="#fcbcbc"/>
<rect x="119.20" y="238.75" width="37.50" height="1.30" fill="#fcbbbb"/>
<rect x="119.20" y="240.00" width="37.50" height="1.30" fill="#faacac"/>
<rect x="119.20" y="241.25" width="37.50" height="1.30" fill="#faacac"/>
<rect x="119.20" y="242.50" width="37.50" height="1.30" fill="#f9a9a9"/>
<rect x="119.20" y="243.75" width="37.50" height="1.30" fill="#fbb8b8"/>
<rect x="119.20" y="245.00" width="37.50" height="1.30" fill="#fcc1c1"/>
<rect x="119.20" y="246.25" width="37.50" height="1.30" fill="#f79b9b"/>
<rect x="119.20" y="247.50" width="37.50" height="1.30" fill="#f89d9d"/>
<rect x="119.20" y="248.75" width="37.50" height="1.30" fill="#f89d9d"/>
<rect x="119.20" y="250.00" width="37.50" height="1.30" fill="#fcbdbd"/>
<rect x="119.20" y="251.25" width="37.50" height="1.30" fill="#fcbcbc"/>
<rect x="119.20" y="252.50" width="37.50" height="1.30" fill="#f07171"/>
<rect x="119.20" y="253.75" width="37.50" height="1.30" fill="#f17979"/>
<rect x="119.20" y="255.00" width="37.50" height="1.30" fill="#f17878"/>
<rect x="119.20" y="256.25" width="37.50" height="1.30" fill="#f07373"/>
<rect x="119.20" y="257.50" width="37.50" height="1.30" fill="#ed6464"/>
<rect x="119.20" y="258.75" width="37.50" height="1.30" fill="#ed6464"/>
<rect x="119.20" y="260.00" width="37.50" height="1.30" fill="#ed6363"/>
<rect x="119.20" y="261.25" width="37.50" height="1.30" fill="#ed6666"/>
<rect x="119.20" y="262.50" width="37.50" height="1.30" fill="#ec6060"/>
<rect x="119.20" y="263.75" width="37.50" height="0.30" fill="#fffefe"/>
<line x1="137.30" y1="62.50" x2="137.30" y2="264.00" stroke="#333" stroke-width="0.7" opacity="0.55"/>
<line x1="63.30" y1="212.50" x2="63.30" y2="264.00" stroke="#444" stroke-width="0.5" stroke-dasharray="4,1.5" opacity="0.8"/>
<line x1="63.30" y1="84.50" x2="63.30" y2="90.00" stroke="#777" stroke-width="0.4"/>
<line x1="44.00" y1="63.50" x2="44.00" y2="264.00" stroke="#333" stroke-width="0.6"/>
<g stroke="#d0d0d0" stroke-width="0.5" fill="none"><path d="M44,79 H36 V173 H44"/><path d="M44,154 H39.6 V201 H44"/><path d="M44,66 H42 V92 H44"/><path d="M44,210 H41 V250 H44"/></g>
<defs><linearGradient id="cb" x1="0" y1="0" x2="0" y2="1"><stop offset="0" stop-color="#d62b24"/><stop offset="0.25" stop-color="#f08480"/><stop offset="0.5" stop-color="#ffffff"/><stop offset="0.75" stop-color="#7078c4"/><stop offset="1" stop-color="#2a389c"/></linearGradient></defs>
<rect x="160.90" y="74.60" width="4.20" height="65.20" fill="url(#cb)"/>
<text x="168.00" y="79.06" font-size="5.6">2</text>
<text x="168.00" y="93.76" font-size="5.6">1</text>
<text x="168.00" y="109.96" font-size="5.6">0</text>
<text x="167.10" y="124.56" font-size="5.6">-1</text>
<text x="167.10" y="136.76" font-size="5.6">-1.5</text>
<line x1="164.20" y1="153.00" x2="164.20" y2="202.70" stroke="#333" stroke-width="0.8"/>
<text x="172.30" y="181.10" font-size="8.0" text-anchor="middle" transform="rotate(90 172.30 178.30)">p-adj &lt; 0.05</text>
<text x="312.50" y="33.63" font-size="10.1" text-anchor="middle">Differential expression</text>
<line x1="247.20" y1="69.50" x2="247.20" y2="179.50" stroke="#000" stroke-width="1.3"/>
<line x1="246.70" y1="179.00" x2="376.80" y2="179.00" stroke="#000" stroke-width="1.3"/>
<line x1="244.60" y1="179.00" x2="247.20" y2="179.00" stroke="#000" stroke-width="1"/>
<text x="242.70" y="181.21" font-size="6.3" text-anchor="end" font-weight="bold">0</text>
<line x1="244.60" y1="160.83" x2="247.20" y2="160.83" stroke="#000" stroke-width="1"/>
<text x="242.70" y="163.04" font-size="6.3" text-anchor="end" font-weight="bold">500</text>
<line x1="244.60" y1="142.67" x2="247.20" y2="142.67" stroke="#000" stroke-width="1"/>
<text x="242.70" y="144.87" font-size="6.3" text-anchor="end" font-weight="bold">1000</text>
<line x1="244.60" y1="124.50" x2="247.20" y2="124.50" stroke="#000" stroke-width="1"/>
<text x="242.70" y="126.70" font-size="6.3" text-anchor="end" font-weight="bold">1500</text>
<line x1="244.60" y1="106.33" x2="247.20" y2="106.33" stroke="#000" stroke-width="1"/>
<text x="242.70" y="108.54" font-size="6.3" text-anchor="end" font-weight="bold">2000</text>
<line x1="244.60" y1="88.17" x2="247.20" y2="88.17" stroke="#000" stroke-width="1"/>
<text x="242.70" y="90.37" font-size="6.3" text-anchor="end" font-weight="bold">2500</text>
<line x1="244.60" y1="70.00" x2="247.20" y2="70.00" stroke="#000" stroke-width="1"/>
<text x="242.70" y="72.20" font-size="6.3" text-anchor="end" font-weight="bold">3000</text>
<line x1="267.00" y1="179.00" x2="267.00" y2="181.50" stroke="#000" stroke-width="1"/>
<line x1="297.00" y1="179.00" x2="297.00" y2="181.50" stroke="#000" stroke-width="1"/>
<line x1="327.00" y1="179.00" x2="327.00" y2="181.50" stroke="#000" stroke-width="1"/>
<line x1="357.00" y1="179.00" x2="357.00" y2="181.50" stroke="#000" stroke-width="1"/>
<rect x="287.00" y="167.20" width="19.70" height="11.80" fill="#0a36ff"/>
<rect x="347.20" y="84.70" width="19.70" height="94.30" fill="#76d2fb"/>
<text x="296.70" y="155.69" font-size="7.7" text-anchor="middle">Up 319</text>
<text x="296.70" y="164.09" font-size="7.7" text-anchor="middle">Down 26</text>
<text x="331.40" y="173.29" font-size="7.7" text-anchor="middle">Up 6</text>
<text x="358.40" y="69.99" font-size="7.7" text-anchor="middle">Up 1531</text>
<text x="358.40" y="78.69" font-size="7.7" text-anchor="middle">Down 1069</text>
<text x="264.60" y="186.00" font-size="8.2" text-anchor="end" transform="rotate(-45 264.60 186.00) translate(0 5.8)">DMSO</text>
<text x="294.60" y="186.00" font-size="8.2" text-anchor="end" transform="rotate(-45 294.60 186.00) translate(0 5.8)">Ro</text>
<text x="324.60" y="186.00" font-size="8.2" text-anchor="end" transform="rotate(-45 324.60 186.00) translate(0 5.8)">GSK-591</text>
<text x="354.60" y="186.00" font-size="8.2" text-anchor="end" transform="rotate(-45 354.60 186.00) translate(0 5.8)">Ro + GSK-591</text>
<text x="217.20" y="127.43" font-size="8.1" text-anchor="middle" transform="rotate(-90 217.20 124.60)">Number of genes</text>
<text x="567.40" y="33.53" font-size="10.1" text-anchor="middle">Enriched signatures Ro+GSK-591 vs Ro</text>
<line x1="541.90" y1="64.20" x2="541.90" y2="194.10" stroke="#000" stroke-width="1.3"/>
<line x1="541.40" y1="193.60" x2="668.50" y2="193.60" stroke="#000" stroke-width="1.3"/>
<line x1="541.90" y1="193.60" x2="541.90" y2="196.10" stroke="#000" stroke-width="1"/>
<text x="541.90" y="204.45" font-size="7.0" text-anchor="middle">0</text>
<line x1="567.22" y1="193.60" x2="567.22" y2="196.10" stroke="#000" stroke-width="1"/>
<text x="567.22" y="204.45" font-size="7.0" text-anchor="middle">100</text>
<line x1="592.54" y1="193.60" x2="592.54" y2="196.10" stroke="#000" stroke-width="1"/>
<text x="592.54" y="204.45" font-size="7.0" text-anchor="middle">200</text>
<line x1="617.86" y1="193.60" x2="617.86" y2="196.10" stroke="#000" stroke-width="1"/>
<text x="617.86" y="204.45" font-size="7.0" text-anchor="middle">300</text>
<line x1="643.18" y1="193.60" x2="643.18" y2="196.10" stroke="#000" stroke-width="1"/>
<text x="643.18" y="204.45" font-size="7.0" text-anchor="middle">400</text>
<line x1="668.50" y1="193.60" x2="668.50" y2="196.10" stroke="#000" stroke-width="1"/>
<text x="668.50" y="204.45" font-size="7.0" text-anchor="middle">500</text>
<text x="604.70" y="220.18" font-size="6.8" text-anchor="middle">Combined score</text>
<line x1="539.40" y1="70.50" x2="541.90" y2="70.50" stroke="#000" stroke-width="1"/>
<text x="538.20" y="73.30" font-size="8.0" text-anchor="end">Hypoxia</text>
<rect x="541.90" y="65.80" width="104.10" height="4.10" fill="#1535fb"/>
<rect x="541.90" y="71.30" width="11.80" height="3.30" fill="#000"/>
<text x="652.20" y="70.09" font-size="7.7" font-style="italic">3.33E-26</text>
<text x="557.60" y="77.39" font-size="7.7" font-style="italic">4.77E-04</text>
<line x1="539.40" y1="85.18" x2="541.90" y2="85.18" stroke="#000" stroke-width="1"/>
<text x="538.20" y="87.98" font-size="8.0" text-anchor="end">P53 pathway</text>
<rect x="541.90" y="80.48" width="54.40" height="4.10" fill="#1535fb"/>
<rect x="541.90" y="85.98" width="18.20" height="3.30" fill="#000"/>
<text x="602.00" y="84.89" font-size="7.7" font-style="italic">2.36E-13</text>
<text x="565.00" y="91.69" font-size="7.7" font-style="italic">3.75E-05</text>
<line x1="539.40" y1="99.86" x2="541.90" y2="99.86" stroke="#000" stroke-width="1"/>
<text x="538.20" y="102.66" font-size="8.0" text-anchor="end">TNF-alpha Signaling via NF-kB</text>
<rect x="541.90" y="95.16" width="34.50" height="4.10" fill="#1535fb"/>
<rect x="541.90" y="100.66" width="2.70" height="3.30" fill="#000"/>
<text x="581.60" y="99.99" font-size="7.7" font-style="italic">6.66E-13</text>
<text x="548.60" y="105.89" font-size="7.7">ns</text>
<line x1="539.40" y1="114.54" x2="541.90" y2="114.54" stroke="#000" stroke-width="1"/>
<text x="538.20" y="117.34" font-size="8.0" text-anchor="end">Cholesterol homeostasis</text>
<rect x="541.90" y="109.84" width="31.80" height="4.10" fill="#1535fb"/>
<rect x="541.90" y="115.34" width="1.10" height="3.30" fill="#000"/>
<text x="578.00" y="114.69" font-size="7.7" font-style="italic">3.45E-12</text>
<text x="547.70" y="120.59" font-size="7.7">ns</text>
<line x1="539.40" y1="129.22" x2="541.90" y2="129.22" stroke="#000" stroke-width="1"/>
<text x="538.20" y="132.02" font-size="8.0" text-anchor="end">mTORC1 Signaling</text>
<rect x="541.90" y="124.52" width="23.60" height="4.10" fill="#1535fb"/>
<text x="570.00" y="129.69" font-size="7.7" font-style="italic">9.84E-11</text>
<text x="545.80" y="135.69" font-size="7.7">ns</text>
<line x1="539.40" y1="143.90" x2="541.90" y2="143.90" stroke="#000" stroke-width="1"/>
<text x="538.20" y="146.70" font-size="8.0" text-anchor="end">Glycolysis</text>
<rect x="541.90" y="139.20" width="15.70" height="4.10" fill="#1535fb"/>
<rect x="541.90" y="144.70" width="7.30" height="3.30" fill="#000"/>
<text x="561.20" y="144.00" font-size="7.7" font-style="italic">1.25E-06</text>
<text x="552.60" y="149.89" font-size="7.7">ns</text>
<line x1="539.40" y1="158.58" x2="541.90" y2="158.58" stroke="#000" stroke-width="1"/>
<text x="538.20" y="161.38" font-size="8.0" text-anchor="end">Myogenesis</text>
<rect x="541.90" y="153.88" width="8.50" height="4.10" fill="#1535fb"/>
<rect x="541.90" y="159.38" width="1.70" height="3.30" fill="#000"/>
<text x="553.80" y="158.69" font-size="7.7" font-style="italic">1.39E-04</text>
<text x="548.60" y="164.39" font-size="7.7">ns</text>
<line x1="539.40" y1="173.26" x2="541.90" y2="173.26" stroke="#000" stroke-width="1"/>
<text x="538.20" y="176.06" font-size="8.0" text-anchor="end">Apoptosis</text>
<rect x="541.90" y="168.56" width="6.20" height="4.10" fill="#1535fb"/>
<rect x="541.90" y="174.06" width="5.80" height="3.30" fill="#000"/>
<text x="551.50" y="173.39" font-size="7.7" font-style="italic">1.92E-04</text>
<text x="552.00" y="179.69" font-size="7.7">ns</text>
<line x1="539.40" y1="187.94" x2="541.90" y2="187.94" stroke="#000" stroke-width="1"/>
<text x="538.20" y="190.74" font-size="8.0" text-anchor="end">Mitotic spindle</text>
<rect x="541.90" y="183.24" width="6.20" height="4.10" fill="#1535fb"/>
<text x="551.50" y="187.19" font-size="7.7" font-style="italic">2.48E-04</text>
<text x="544.00" y="192.89" font-size="7.7">ns</text>
<rect x="619.40" y="157.80" width="9.00" height="4.50" fill="#000"/>
<text x="634.00" y="162.80" font-size="8.0">Ro</text>
<rect x="619.40" y="168.00" width="9.00" height="4.50" fill="#1535fb"/>
<text x="634.00" y="173.00" font-size="8.0">GSK-591 + Ro</text>
<text x="340.50" y="298.84" font-size="10.1" text-anchor="middle">Dowregulated signatures</text>
<text x="340.50" y="310.14" font-size="10.1" text-anchor="middle">Ro+GSK-591 vs Ro</text>
<line x1="304.20" y1="330.20" x2="304.20" y2="446.60" stroke="#000" stroke-width="1.3"/>
<line x1="303.70" y1="446.10" x2="417.50" y2="446.10" stroke="#000" stroke-width="1.3"/>
<line x1="304.20" y1="446.10" x2="304.20" y2="448.60" stroke="#000" stroke-width="1"/>
<text x="304.20" y="456.74" font-size="6.4" text-anchor="middle">0</text>
<line x1="341.97" y1="446.10" x2="341.97" y2="448.60" stroke="#000" stroke-width="1"/>
<text x="341.97" y="456.74" font-size="6.4" text-anchor="middle">500</text>
<line x1="379.73" y1="446.10" x2="379.73" y2="448.60" stroke="#000" stroke-width="1"/>
<text x="379.73" y="456.74" font-size="6.4" text-anchor="middle">1000</text>
<line x1="417.50" y1="446.10" x2="417.50" y2="448.60" stroke="#000" stroke-width="1"/>
<text x="417.50" y="456.74" font-size="6.4" text-anchor="middle">1500</text>
<text x="361.00" y="466.74" font-size="6.4" text-anchor="middle">Combined score</text>
<line x1="301.70" y1="337.80" x2="304.20" y2="337.80" stroke="#000" stroke-width="1"/>
<text x="300.60" y="340.27" font-size="7.05" text-anchor="end">E2F Targets</text>
<rect x="304.20" y="331.80" width="93.50" height="4.40" fill="#1535fb"/>
<rect x="304.20" y="339.00" width="6.50" height="3.80" fill="#000"/>
<text x="401.50" y="336.00" font-size="7.7" font-style="italic">3.30E-44</text>
<text x="314.00" y="344.10" font-size="7.7">ns</text>
<line x1="301.70" y1="357.75" x2="304.20" y2="357.75" stroke="#000" stroke-width="1"/>
<text x="300.60" y="360.22" font-size="7.05" text-anchor="end">Myc Targets V1</text>
<rect x="304.20" y="351.75" width="25.80" height="4.40" fill="#1535fb"/>
<text x="333.80" y="355.94" font-size="7.7" font-style="italic">1.41E-21</text>
<text x="307.50" y="364.05" font-size="7.7">ns</text>
<line x1="301.70" y1="377.70" x2="304.20" y2="377.70" stroke="#000" stroke-width="1"/>
<text x="300.60" y="380.17" font-size="7.05" text-anchor="end">G2-M Checkpoint</text>
<rect x="304.20" y="371.70" width="14.00" height="4.40" fill="#1535fb"/>
<text x="322.00" y="375.89" font-size="7.7" font-style="italic">9.08E-15</text>
<text x="307.50" y="384.00" font-size="7.7">ns</text>
<line x1="301.70" y1="397.65" x2="304.20" y2="397.65" stroke="#000" stroke-width="1"/>
<text x="300.60" y="400.12" font-size="7.05" text-anchor="end">mTORC1 Signaling</text>
<rect x="304.20" y="391.65" width="8.20" height="4.40" fill="#1535fb"/>
<text x="316.20" y="395.84" font-size="7.7" font-style="italic">9.08E-15</text>
<text x="307.50" y="403.94" font-size="7.7">ns</text>
<line x1="301.70" y1="417.60" x2="304.20" y2="417.60" stroke="#000" stroke-width="1"/>
<text x="300.60" y="420.07" font-size="7.05" text-anchor="end">Myc Targets V2</text>
<rect x="304.20" y="411.60" width="10.80" height="4.40" fill="#1535fb"/>
<rect x="304.20" y="418.80" width="0.80" height="3.80" fill="#000"/>
<text x="318.80" y="415.80" font-size="7.7" font-style="italic">4.04E-08</text>
<text x="308.30" y="423.90" font-size="7.7">ns</text>
<line x1="301.70" y1="437.55" x2="304.20" y2="437.55" stroke="#000" stroke-width="1"/>
<text x="300.60" y="440.02" font-size="7.05" text-anchor="end">DNA Repair</text>
<rect x="304.20" y="431.55" width="5.80" height="4.40" fill="#1535fb"/>
<text x="313.80" y="435.75" font-size="7.7" font-style="italic">4.07E-08</text>
<text x="307.50" y="443.85" font-size="7.7">ns</text>
<rect x="377.20" y="412.80" width="7.30" height="4.40" fill="#000"/>
<text x="387.40" y="417.80" font-size="8.0">Ro</text>
<rect x="377.20" y="421.30" width="7.30" height="4.40" fill="#1535fb"/>
<text x="387.40" y="426.23" font-size="7.8">GSK-591 + Ro</text>
<rect x="38.30" y="333.10" width="161.00" height="105.00" fill="none" stroke="#f0f0f0" stroke-width="1.6"/>
<rect x="39.90" y="334.50" width="157.80" height="102.60" fill="#fff" stroke="#cfcfcf" stroke-width="0.8"/>
<line x1="68.70" y1="334.50" x2="68.70" y2="406.20" stroke="#e9e9e9" stroke-width="0.5" stroke-dasharray="1,0.6"/>
<line x1="68.70" y1="406.20" x2="68.70" y2="430.40" stroke="#efefef" stroke-width="0.5"/>
<line x1="97.70" y1="334.50" x2="97.70" y2="406.20" stroke="#e9e9e9" stroke-width="0.5" stroke-dasharray="1,0.6"/>
<line x1="97.70" y1="406.20" x2="97.70" y2="430.40" stroke="#efefef" stroke-width="0.5"/>
<line x1="126.70" y1="334.50" x2="126.70" y2="406.20" stroke="#e9e9e9" stroke-width="0.5" stroke-dasharray="1,0.6"/>
<line x1="126.70" y1="406.20" x2="126.70" y2="430.40" stroke="#efefef" stroke-width="0.5"/>
<line x1="155.70" y1="334.50" x2="155.70" y2="406.20" stroke="#e9e9e9" stroke-width="0.5" stroke-dasharray="1,0.6"/>
<line x1="155.70" y1="406.20" x2="155.70" y2="430.40" stroke="#efefef" stroke-width="0.5"/>
<line x1="184.70" y1="334.50" x2="184.70" y2="406.20" stroke="#e9e9e9" stroke-width="0.5" stroke-dasharray="1,0.6"/>
<line x1="184.70" y1="406.20" x2="184.70" y2="430.40" stroke="#efefef" stroke-width="0.5"/>
<line x1="39.90" y1="337.32" x2="197.70" y2="337.32" stroke="#e9e9e9" stroke-width="0.5" stroke-dasharray="1,0.6"/>
<line x1="39.90" y1="345.96" x2="197.70" y2="345.96" stroke="#e9e9e9" stroke-width="0.5" stroke-dasharray="1,0.6"/>
<line x1="39.90" y1="354.60" x2="197.70" y2="354.60" stroke="#e9e9e9" stroke-width="0.5" stroke-dasharray="1,0.6"/>
<line x1="39.90" y1="363.24" x2="197.70" y2="363.24" stroke="#e9e9e9" stroke-width="0.5" stroke-dasharray="1,0.6"/>
<line x1="39.90" y1="371.88" x2="197.70" y2="371.88" stroke="#e9e9e9" stroke-width="0.5" stroke-dasharray="1,0.6"/>
<line x1="39.90" y1="380.52" x2="197.70" y2="380.52" stroke="#e9e9e9" stroke-width="0.5" stroke-dasharray="1,0.6"/>
<line x1="39.90" y1="389.16" x2="197.70" y2="389.16" stroke="#e9e9e9" stroke-width="0.5" stroke-dasharray="1,0.6"/>
<line x1="39.90" y1="397.80" x2="197.70" y2="397.80" stroke="#e9e9e9" stroke-width="0.5" stroke-dasharray="1,0.6"/>
<line x1="39.90" y1="406.20" x2="197.70" y2="406.20" stroke="#d6d6d6" stroke-width="0.7"/>
<line x1="39.90" y1="430.40" x2="197.70" y2="430.40" stroke="#dedede" stroke-width="0.6"/>
<text x="37.00" y="339.35" font-size="5.8" text-anchor="end">0.35</text>
<text x="37.00" y="347.99" font-size="5.8" text-anchor="end">0.30</text>
<text x="37.00" y="356.63" font-size="5.8" text-anchor="end">0.25</text>
<text x="37.00" y="365.27" font-size="5.8" text-anchor="end">0.20</text>
<text x="37.00" y="373.91" font-size="5.8" text-anchor="end">0.15</text>
<text x="37.00" y="382.55" font-size="5.8" text-anchor="end">0.10</text>
<text x="37.00" y="391.19" font-size="5.8" text-anchor="end">0.05</text>
<line x1="39.90" y1="397.80" x2="197.70" y2="397.80" stroke="#cccccc" stroke-width="0.8"/>
<text x="37.00" y="399.83" font-size="5.8" text-anchor="end">0.0</text>
<line x1="42.00" y1="407.00" x2="42.00" y2="430.40" stroke="#222" stroke-width="1.5"/>
<line x1="47.30" y1="407.00" x2="47.30" y2="430.40" stroke="#666" stroke-width="0.9"/>
<line x1="48.90" y1="407.00" x2="48.90" y2="430.40" stroke="#999" stroke-width="0.7"/>
<line x1="53.30" y1="407.00" x2="53.30" y2="430.40" stroke="#bbb" stroke-width="1.8"/>
<line x1="57.00" y1="407.00" x2="57.00" y2="430.40" stroke="#555" stroke-width="1.3"/>
<line x1="58.40" y1="407.00" x2="58.40" y2="430.40" stroke="#888" stroke-width="0.7"/>
<line x1="62.80" y1="407.00" x2="62.80" y2="430.40" stroke="#999" stroke-width="1.1"/>
<line x1="65.40" y1="407.00" x2="65.40" y2="430.40" stroke="#444" stroke-width="0.6"/>
<line x1="66.80" y1="407.00" x2="66.80" y2="430.40" stroke="#aaa" stroke-width="0.7"/>
<line x1="69.40" y1="407.00" x2="69.40" y2="430.40" stroke="#444" stroke-width="0.7"/>
<line x1="75.20" y1="407.00" x2="75.20" y2="430.40" stroke="#ccc" stroke-width="0.7"/>
<line x1="79.60" y1="407.00" x2="79.60" y2="430.40" stroke="#999" stroke-width="1.8"/>
<line x1="83.60" y1="407.00" x2="83.60" y2="430.40" stroke="#444" stroke-width="0.7"/>
<line x1="85.40" y1="407.00" x2="85.40" y2="430.40" stroke="#aaa" stroke-width="0.7"/>
<line x1="89.50" y1="407.00" x2="89.50" y2="430.40" stroke="#888" stroke-width="0.6"/>
<line x1="92.40" y1="407.00" x2="92.40" y2="430.40" stroke="#222" stroke-width="0.9"/>
<line x1="94.40" y1="407.00" x2="94.40" y2="430.40" stroke="#999" stroke-width="0.6"/>
<line x1="97.50" y1="407.00" x2="97.50" y2="430.40" stroke="#aaa" stroke-width="0.6"/>
<line x1="101.00" y1="407.00" x2="101.00" y2="430.40" stroke="#666" stroke-width="1.6"/>
<line x1="103.40" y1="407.00" x2="103.40" y2="430.40" stroke="#bbb" stroke-width="0.6"/>
<line x1="105.90" y1="407.00" x2="105.90" y2="430.40" stroke="#666" stroke-width="1.5"/>
<line x1="111.20" y1="407.00" x2="111.20" y2="430.40" stroke="#555" stroke-width="2.0"/>
<line x1="115.20" y1="407.00" x2="115.20" y2="430.40" stroke="#777" stroke-width="2.0"/>
<line x1="125.80" y1="407.00" x2="125.80" y2="430.40" stroke="#aaa" stroke-width="1.5"/>
<line x1="126.90" y1="407.00" x2="126.90" y2="430.40" stroke="#999" stroke-width="0.7"/>
<line x1="130.90" y1="407.00" x2="130.90" y2="430.40" stroke="#bbb" stroke-width="1.1"/>
<line x1="138.20" y1="407.00" x2="138.20" y2="430.40" stroke="#777" stroke-width="0.8"/>
<line x1="155.30" y1="407.00" x2="155.30" y2="430.40" stroke="#555" stroke-width="0.8"/>
<line x1="168.50" y1="407.00" x2="168.50" y2="430.40" stroke="#888" stroke-width="0.8"/>
<line x1="171.10" y1="407.00" x2="171.10" y2="430.40" stroke="#222" stroke-width="0.8"/>
<line x1="175.00" y1="407.00" x2="175.00" y2="430.40" stroke="#bbb" stroke-width="0.9"/>
<line x1="186.20" y1="407.00" x2="186.20" y2="430.40" stroke="#666" stroke-width="0.8"/>
<line x1="190.10" y1="407.00" x2="190.10" y2="430.40" stroke="#aaa" stroke-width="0.9"/>
<rect x="39.90" y="430.40" width="31.70" height="6.10" fill="#e35c5c"/>
<rect x="71.60" y="430.40" width="39.70" height="6.10" fill="#e8808a"/>
<rect x="111.30" y="430.40" width="16.80" height="6.10" fill="#eab4da"/>
<rect x="128.10" y="430.40" width="8.20" height="6.10" fill="#d6d6f6"/>
<rect x="136.30" y="430.40" width="13.80" height="6.10" fill="#c2c2f4"/>
<rect x="150.10" y="430.40" width="15.10" height="6.10" fill="#8a8cf0"/>
<rect x="165.20" y="430.40" width="19.70" height="6.10" fill="#6262e2"/>
<rect x="184.90" y="430.40" width="5.00" height="6.10" fill="#2020c0"/>
<path d="M40.50,398.60 L41.30,394.00 L42.30,388.00 L43.10,373.60 L44.20,373.00 L45.00,372.30 L46.30,376.20 L47.20,370.00 L48.40,367.00 L49.30,368.50 L50.20,364.40 L51.50,365.50 L52.80,363.10 L53.60,364.00 L54.20,360.50 L55.50,359.20 L56.20,356.00 L56.80,352.60 L57.80,350.50 L58.90,348.60 L60.20,349.50 L62.00,347.30 L63.50,348.00 L64.50,346.20 L66.00,346.00 L67.30,346.50 L68.50,344.00 L69.90,342.90 L71.20,343.80 L72.50,344.70 L74.00,345.20 L76.50,346.00 L77.50,347.20 L79.10,348.10 L80.50,346.20 L81.50,346.80 L83.00,344.70 L84.50,345.50 L85.50,344.20 L87.00,343.90 L88.50,345.00 L90.90,346.00 L92.20,343.50 L93.60,342.00 L95.00,343.20 L96.20,342.40 L97.50,342.90 L99.00,342.20 L100.20,342.80 L101.40,341.30 L102.80,341.80 L104.00,341.00 L105.40,342.10 L106.50,340.80 L108.00,340.20 L109.50,341.60 L110.60,341.30 L112.00,339.40 L113.30,338.70 L114.50,339.20 L115.60,338.20 L117.20,337.60 L118.50,339.00 L119.50,339.20 L121.20,341.30 L122.50,343.50 L125.10,347.30 L126.50,347.60 L128.20,348.60 L130.50,351.20 L133.00,353.90 L136.00,356.40 L139.50,358.60 L143.00,363.00 L147.40,368.40 L151.00,372.50 L155.30,376.20 L159.00,380.00 L163.20,384.10 L165.50,386.80 L166.80,386.20 L168.40,388.10 L169.60,387.50 L170.50,389.20 L172.40,389.40 L173.40,388.60 L174.50,390.00 L176.30,390.20 L179.00,393.00 L181.60,395.40 L183.50,397.60 L185.50,399.90 L186.50,398.60 L187.50,401.50 L188.60,400.50 L189.50,402.50 L190.80,398.60" stroke="#62ec3c" stroke-width="1.3" fill="none" stroke-linejoin="round"/>
<text x="114.00" y="311.74" font-size="10.1" text-anchor="middle">P53 pathway</text>
<text x="13.40" y="370.69" font-size="7.7" text-anchor="middle" transform="rotate(-90 13.40 368.00)">Enrichment score</text>
<text x="60.70" y="381.63" font-size="7.8">NES 1.82</text>
<text x="60.70" y="390.23" font-size="7.8">FDR 0.00775</text>
<text x="47.00" y="447.26" font-size="7.9">Ro + GSK-591</text>
<text x="176.30" y="447.26" font-size="7.9">Ro</text>
<rect x="501.90" y="325.90" width="160.20" height="103.50" fill="none" stroke="#f0f0f0" stroke-width="1.6"/>
<rect x="503.50" y="327.30" width="157.00" height="101.10" fill="#fff" stroke="#cfcfcf" stroke-width="0.8"/>
<line x1="532.50" y1="327.30" x2="532.50" y2="398.40" stroke="#e9e9e9" stroke-width="0.5" stroke-dasharray="1,0.6"/>
<line x1="532.50" y1="398.40" x2="532.50" y2="422.00" stroke="#efefef" stroke-width="0.5"/>
<line x1="561.50" y1="327.30" x2="561.50" y2="398.40" stroke="#e9e9e9" stroke-width="0.5" stroke-dasharray="1,0.6"/>
<line x1="561.50" y1="398.40" x2="561.50" y2="422.00" stroke="#efefef" stroke-width="0.5"/>
<line x1="590.00" y1="327.30" x2="590.00" y2="398.40" stroke="#e9e9e9" stroke-width="0.5" stroke-dasharray="1,0.6"/>
<line x1="590.00" y1="398.40" x2="590.00" y2="422.00" stroke="#efefef" stroke-width="0.5"/>
<line x1="618.50" y1="327.30" x2="618.50" y2="398.40" stroke="#e9e9e9" stroke-width="0.5" stroke-dasharray="1,0.6"/>
<line x1="618.50" y1="398.40" x2="618.50" y2="422.00" stroke="#efefef" stroke-width="0.5"/>
<line x1="646.50" y1="327.30" x2="646.50" y2="398.40" stroke="#e9e9e9" stroke-width="0.5" stroke-dasharray="1,0.6"/>
<line x1="646.50" y1="398.40" x2="646.50" y2="422.00" stroke="#efefef" stroke-width="0.5"/>
<line x1="503.50" y1="332.70" x2="660.50" y2="332.70" stroke="#e9e9e9" stroke-width="0.5" stroke-dasharray="1,0.6"/>
<line x1="503.50" y1="344.04" x2="660.50" y2="344.04" stroke="#e9e9e9" stroke-width="0.5" stroke-dasharray="1,0.6"/>
<line x1="503.50" y1="355.38" x2="660.50" y2="355.38" stroke="#e9e9e9" stroke-width="0.5" stroke-dasharray="1,0.6"/>
<line x1="503.50" y1="366.72" x2="660.50" y2="366.72" stroke="#e9e9e9" stroke-width="0.5" stroke-dasharray="1,0.6"/>
<line x1="503.50" y1="378.06" x2="660.50" y2="378.06" stroke="#e9e9e9" stroke-width="0.5" stroke-dasharray="1,0.6"/>
<line x1="503.50" y1="389.40" x2="660.50" y2="389.40" stroke="#e9e9e9" stroke-width="0.5" stroke-dasharray="1,0.6"/>
<line x1="503.50" y1="398.40" x2="660.50" y2="398.40" stroke="#d6d6d6" stroke-width="0.7"/>
<line x1="503.50" y1="422.00" x2="660.50" y2="422.00" stroke="#dedede" stroke-width="0.6"/>
<line x1="503.50" y1="332.70" x2="660.50" y2="332.70" stroke="#cccccc" stroke-width="0.8"/>
<text x="499.20" y="335.33" font-size="5.8" text-anchor="end">0.0</text>
<text x="499.20" y="346.67" font-size="5.8" text-anchor="end">-0.1</text>
<text x="499.20" y="358.01" font-size="5.8" text-anchor="end">-0.2</text>
<text x="499.20" y="369.35" font-size="5.8" text-anchor="end">-0.3</text>
<text x="499.20" y="380.69" font-size="5.8" text-anchor="end">-0.4</text>
<text x="499.20" y="392.03" font-size="5.8" text-anchor="end">-0.5</text>
<line x1="547.70" y1="399.20" x2="547.70" y2="422.00" stroke="#555" stroke-width="0.8"/>
<line x1="553.70" y1="399.20" x2="553.70" y2="422.00" stroke="#666" stroke-width="0.8"/>
<line x1="573.80" y1="399.20" x2="573.80" y2="422.00" stroke="#555" stroke-width="0.8"/>
<line x1="592.00" y1="399.20" x2="592.00" y2="422.00" stroke="#595959" stroke-width="0.8"/>
<line x1="592.55" y1="399.20" x2="592.55" y2="422.00" stroke="#676767" stroke-width="0.8"/>
<line x1="593.10" y1="399.20" x2="593.10" y2="422.00" stroke="#5b5b5b" stroke-width="0.8"/>
<line x1="593.65" y1="399.20" x2="593.65" y2="422.00" stroke="#595959" stroke-width="0.8"/>
<line x1="594.20" y1="399.20" x2="594.20" y2="422.00" stroke="#616161" stroke-width="0.8"/>
<line x1="594.75" y1="399.20" x2="594.75" y2="422.00" stroke="#6b6b6b" stroke-width="0.8"/>
<line x1="596.60" y1="399.20" x2="596.60" y2="422.00" stroke="#383838" stroke-width="0.8"/>
<line x1="598.00" y1="399.20" x2="598.00" y2="422.00" stroke="#373737" stroke-width="0.8"/>
<line x1="601.10" y1="399.20" x2="601.10" y2="422.00" stroke="#616161" stroke-width="0.8"/>
<line x1="601.80" y1="399.20" x2="601.80" y2="422.00" stroke="#5c5c5c" stroke-width="0.8"/>
<line x1="602.50" y1="399.20" x2="602.50" y2="422.00" stroke="#707070" stroke-width="0.8"/>
<line x1="604.80" y1="399.20" x2="604.80" y2="422.00" stroke="#6e6e6e" stroke-width="0.8"/>
<line x1="605.50" y1="399.20" x2="605.50" y2="422.00" stroke="#373737" stroke-width="0.8"/>
<line x1="606.20" y1="399.20" x2="606.20" y2="422.00" stroke="#2c2c2c" stroke-width="0.8"/>
<line x1="611.20" y1="399.20" x2="611.20" y2="422.00" stroke="#595959" stroke-width="0.8"/>
<line x1="611.90" y1="399.20" x2="611.90" y2="422.00" stroke="#464646" stroke-width="0.8"/>
<line x1="612.60" y1="399.20" x2="612.60" y2="422.00" stroke="#323232" stroke-width="0.8"/>
<line x1="614.80" y1="399.20" x2="614.80" y2="422.00" stroke="#2b2b2b" stroke-width="0.8"/>
<line x1="615.50" y1="399.20" x2="615.50" y2="422.00" stroke="#646464" stroke-width="0.8"/>
<line x1="616.20" y1="399.20" x2="616.20" y2="422.00" stroke="#252525" stroke-width="0.8"/>
<line x1="616.90" y1="399.20" x2="616.90" y2="422.00" stroke="#6c6c6c" stroke-width="0.8"/>
<line x1="620.30" y1="399.20" x2="620.30" y2="422.00" stroke="#525252" stroke-width="0.8"/>
<line x1="623.00" y1="399.20" x2="623.00" y2="422.00" stroke="#595959" stroke-width="0.8"/>
<line x1="625.80" y1="399.20" x2="625.80" y2="422.00" stroke="#6e6e6e" stroke-width="0.8"/>
<line x1="631.20" y1="399.20" x2="631.20" y2="422.00" stroke="#343434" stroke-width="0.8"/>
<line x1="634.90" y1="399.20" x2="634.90" y2="422.00" stroke="#6f6f6f" stroke-width="0.8"/>
<line x1="635.60" y1="399.20" x2="635.60" y2="422.00" stroke="#212121" stroke-width="0.8"/>
<line x1="636.30" y1="399.20" x2="636.30" y2="422.00" stroke="#636363" stroke-width="0.8"/>
<line x1="638.50" y1="399.20" x2="638.50" y2="422.00" stroke="#282828" stroke-width="0.8"/>
<line x1="641.30" y1="399.20" x2="641.30" y2="422.00" stroke="#272727" stroke-width="0.8"/>
<line x1="643.10" y1="399.20" x2="643.10" y2="422.00" stroke="#242424" stroke-width="0.8"/>
<line x1="643.80" y1="399.20" x2="643.80" y2="422.00" stroke="#383838" stroke-width="0.8"/>
<line x1="644.50" y1="399.20" x2="644.50" y2="422.00" stroke="#3e3e3e" stroke-width="0.8"/>
<line x1="646.80" y1="399.20" x2="646.80" y2="422.00" stroke="#6c6c6c" stroke-width="0.8"/>
<line x1="647.50" y1="399.20" x2="647.50" y2="422.00" stroke="#232323" stroke-width="0.8"/>
<line x1="648.20" y1="399.20" x2="648.20" y2="422.00" stroke="#5b5b5b" stroke-width="0.8"/>
<line x1="648.90" y1="399.20" x2="648.90" y2="422.00" stroke="#494949" stroke-width="0.8"/>
<rect x="503.60" y="422.00" width="31.00" height="5.80" fill="#e45e5e"/>
<rect x="534.60" y="422.00" width="18.20" height="5.80" fill="#e8707e"/>
<rect x="552.80" y="422.00" width="21.00" height="5.80" fill="#ee8888"/>
<rect x="573.80" y="422.00" width="17.80" height="5.80" fill="#f0b8e0"/>
<rect x="591.60" y="422.00" width="20.40" height="5.80" fill="#c8c8f8"/>
<rect x="612.00" y="422.00" width="15.60" height="5.80" fill="#7878ec"/>
<rect x="627.60" y="422.00" width="19.20" height="5.80" fill="#5a5ae0"/>
<rect x="646.80" y="422.00" width="5.60" height="5.80" fill="#2020c0"/>
<path d="M503.50,332.80 L520.72,345.83 L535.65,356.78 L548.29,365.57 L550.08,364.68 L551.57,366.85 L554.06,368.04 L555.56,367.15 L557.55,369.81 L565.51,375.24 L573.97,380.67 L575.26,380.18 L576.46,381.66 L584.42,388.07 L591.89,394.29 L593.38,391.53 L594.87,392.22 L596.36,388.86 L598.75,385.31 L599.85,386.39 L601.34,383.43 L602.83,383.73 L604.33,381.16 L605.82,379.39 L606.81,380.67 L608.31,375.73 L609.80,376.82 L611.29,373.76 L612.79,371.79 L614.28,370.80 L616.77,366.16 L618.26,366.85 L620.25,363.89 L622.24,363.00 L625.03,362.02 L626.22,363.20 L627.72,361.62 L630.50,364.19 L632.20,362.41 L634.19,360.73 L636.18,361.92 L638.17,358.66 L640.16,356.49 L641.15,351.55 L642.95,348.30 L644.14,349.09 L645.63,344.15 L646.63,344.84 L648.12,339.71 L649.12,335.76 L649.91,331.81 L651.11,333.29 L652.60,333.29" stroke="#62ec3c" stroke-width="1.3" fill="none" stroke-linejoin="round"/>
<text x="582.00" y="311.64" font-size="10.1" text-anchor="middle">MYC targets V1</text>
<text x="483.10" y="379.27" font-size="8.2" text-anchor="middle" transform="rotate(-90 483.10 376.40)">Enrichment score</text>
<text x="513.30" y="384.33" font-size="7.8">NES -4.37</text>
<text x="513.30" y="392.93" font-size="7.8">FDR 0.0</text>
<text x="507.00" y="437.56" font-size="7.9">Ro + GSK-591</text>
<text x="638.70" y="437.56" font-size="7.9">Ro</text>
<rect x="36.90" y="527.10" width="159.40" height="103.00" fill="none" stroke="#f0f0f0" stroke-width="1.6"/>
<rect x="38.50" y="528.50" width="156.20" height="100.60" fill="#fff" stroke="#cfcfcf" stroke-width="0.8"/>
<line x1="67.50" y1="528.50" x2="67.50" y2="599.50" stroke="#e9e9e9" stroke-width="0.5" stroke-dasharray="1,0.6"/>
<line x1="67.50" y1="599.50" x2="67.50" y2="622.50" stroke="#efefef" stroke-width="0.5"/>
<line x1="96.50" y1="528.50" x2="96.50" y2="599.50" stroke="#e9e9e9" stroke-width="0.5" stroke-dasharray="1,0.6"/>
<line x1="96.50" y1="599.50" x2="96.50" y2="622.50" stroke="#efefef" stroke-width="0.5"/>
<line x1="125.00" y1="528.50" x2="125.00" y2="599.50" stroke="#e9e9e9" stroke-width="0.5" stroke-dasharray="1,0.6"/>
<line x1="125.00" y1="599.50" x2="125.00" y2="622.50" stroke="#efefef" stroke-width="0.5"/>
<line x1="153.50" y1="528.50" x2="153.50" y2="599.50" stroke="#e9e9e9" stroke-width="0.5" stroke-dasharray="1,0.6"/>
<line x1="153.50" y1="599.50" x2="153.50" y2="622.50" stroke="#efefef" stroke-width="0.5"/>
<line x1="182.00" y1="528.50" x2="182.00" y2="599.50" stroke="#e9e9e9" stroke-width="0.5" stroke-dasharray="1,0.6"/>
<line x1="182.00" y1="599.50" x2="182.00" y2="622.50" stroke="#efefef" stroke-width="0.5"/>
<line x1="38.50" y1="531.40" x2="194.70" y2="531.40" stroke="#e9e9e9" stroke-width="0.5" stroke-dasharray="1,0.6"/>
<line x1="38.50" y1="542.50" x2="194.70" y2="542.50" stroke="#e9e9e9" stroke-width="0.5" stroke-dasharray="1,0.6"/>
<line x1="38.50" y1="553.60" x2="194.70" y2="553.60" stroke="#e9e9e9" stroke-width="0.5" stroke-dasharray="1,0.6"/>
<line x1="38.50" y1="564.70" x2="194.70" y2="564.70" stroke="#e9e9e9" stroke-width="0.5" stroke-dasharray="1,0.6"/>
<line x1="38.50" y1="575.80" x2="194.70" y2="575.80" stroke="#e9e9e9" stroke-width="0.5" stroke-dasharray="1,0.6"/>
<line x1="38.50" y1="586.90" x2="194.70" y2="586.90" stroke="#e9e9e9" stroke-width="0.5" stroke-dasharray="1,0.6"/>
<line x1="38.50" y1="599.50" x2="194.70" y2="599.50" stroke="#d6d6d6" stroke-width="0.7"/>
<line x1="38.50" y1="622.50" x2="194.70" y2="622.50" stroke="#dedede" stroke-width="0.6"/>
<line x1="38.50" y1="531.40" x2="194.70" y2="531.40" stroke="#cccccc" stroke-width="0.8"/>
<text x="37.80" y="534.63" font-size="5.8" text-anchor="end">0.0</text>
<text x="37.80" y="545.73" font-size="5.8" text-anchor="end">-0.1</text>
<text x="37.80" y="556.83" font-size="5.8" text-anchor="end">-0.2</text>
<text x="37.80" y="567.93" font-size="5.8" text-anchor="end">-0.3</text>
<text x="37.80" y="579.03" font-size="5.8" text-anchor="end">-0.4</text>
<text x="37.80" y="590.13" font-size="5.8" text-anchor="end">-0.5</text>
<line x1="45.06" y1="600.30" x2="45.06" y2="622.50" stroke="#aaa" stroke-width="1.5"/>
<line x1="53.11" y1="600.30" x2="53.11" y2="622.50" stroke="#888" stroke-width="0.8"/>
<line x1="67.62" y1="600.30" x2="67.62" y2="622.50" stroke="#999" stroke-width="0.8"/>
<line x1="69.71" y1="600.30" x2="69.71" y2="622.50" stroke="#bbb" stroke-width="0.8"/>
<line x1="75.08" y1="600.30" x2="75.08" y2="622.50" stroke="#777" stroke-width="0.8"/>
<line x1="81.44" y1="600.30" x2="81.44" y2="622.50" stroke="#999" stroke-width="1.2"/>
<line x1="83.33" y1="600.30" x2="83.33" y2="622.50" stroke="#bbb" stroke-width="0.8"/>
<line x1="91.08" y1="600.30" x2="91.08" y2="622.50" stroke="#999" stroke-width="1.0"/>
<line x1="93.37" y1="600.30" x2="93.37" y2="622.50" stroke="#666" stroke-width="0.8"/>
<line x1="95.85" y1="600.30" x2="95.85" y2="622.50" stroke="#777" stroke-width="0.8"/>
<line x1="98.44" y1="600.30" x2="98.44" y2="622.50" stroke="#888" stroke-width="0.8"/>
<line x1="101.22" y1="600.30" x2="101.22" y2="622.50" stroke="#555" stroke-width="0.8"/>
<line x1="102.81" y1="600.30" x2="102.81" y2="622.50" stroke="#444" stroke-width="0.8"/>
<line x1="107.68" y1="600.30" x2="107.68" y2="622.50" stroke="#777" stroke-width="0.9"/>
<line x1="109.87" y1="600.30" x2="109.87" y2="622.50" stroke="#999" stroke-width="0.9"/>
<line x1="111.95" y1="600.30" x2="111.95" y2="622.50" stroke="#666" stroke-width="0.8"/>
<line x1="114.34" y1="600.30" x2="114.34" y2="622.50" stroke="#999" stroke-width="0.8"/>
<line x1="117.72" y1="600.30" x2="117.72" y2="622.50" stroke="#555" stroke-width="0.8"/>
<line x1="119.61" y1="600.30" x2="119.61" y2="622.50" stroke="#444" stroke-width="0.8"/>
<line x1="122.29" y1="600.30" x2="122.29" y2="622.50" stroke="#888" stroke-width="0.8"/>
<line x1="126.76" y1="600.30" x2="126.76" y2="622.50" stroke="#1f1f1f" stroke-width="1.0"/>
<line x1="127.66" y1="600.30" x2="127.66" y2="622.50" stroke="#181818" stroke-width="1.0"/>
<line x1="128.44" y1="600.30" x2="128.44" y2="622.50" stroke="#363636" stroke-width="1.0"/>
<line x1="129.27" y1="600.30" x2="129.27" y2="622.50" stroke="#353535" stroke-width="1.0"/>
<line x1="129.90" y1="600.30" x2="129.90" y2="622.50" stroke="#101010" stroke-width="1.0"/>
<line x1="130.94" y1="600.30" x2="130.94" y2="622.50" stroke="#2e2e2e" stroke-width="1.0"/>
<line x1="131.67" y1="600.30" x2="131.67" y2="622.50" stroke="#1e1e1e" stroke-width="1.0"/>
<line x1="132.36" y1="600.30" x2="132.36" y2="622.50" stroke="#3d3d3d" stroke-width="1.0"/>
<line x1="133.19" y1="600.30" x2="133.19" y2="622.50" stroke="#454545" stroke-width="1.0"/>
<line x1="134.06" y1="600.30" x2="134.06" y2="622.50" stroke="#292929" stroke-width="1.0"/>
<line x1="134.98" y1="600.30" x2="134.98" y2="622.50" stroke="#191919" stroke-width="1.0"/>
<line x1="137.42" y1="600.30" x2="137.42" y2="622.50" stroke="#282828" stroke-width="1.0"/>
<line x1="138.38" y1="600.30" x2="138.38" y2="622.50" stroke="#3a3a3a" stroke-width="1.0"/>
<line x1="139.36" y1="600.30" x2="139.36" y2="622.50" stroke="#8a8a8a" stroke-width="1.0"/>
<line x1="140.34" y1="600.30" x2="140.34" y2="622.50" stroke="#a5a5a5" stroke-width="1.0"/>
<line x1="140.95" y1="600.30" x2="140.95" y2="622.50" stroke="#818181" stroke-width="1.0"/>
<line x1="141.96" y1="600.30" x2="141.96" y2="622.50" stroke="#919191" stroke-width="1.0"/>
<line x1="142.79" y1="600.30" x2="142.79" y2="622.50" stroke="#3e3e3e" stroke-width="1.0"/>
<line x1="143.84" y1="600.30" x2="143.84" y2="622.50" stroke="#282828" stroke-width="1.0"/>
<line x1="145.85" y1="600.30" x2="145.85" y2="622.50" stroke="#6e6e6e" stroke-width="1.0"/>
<line x1="146.81" y1="600.30" x2="146.81" y2="622.50" stroke="#797979" stroke-width="1.0"/>
<line x1="147.63" y1="600.30" x2="147.63" y2="622.50" stroke="#5d5d5d" stroke-width="1.0"/>
<line x1="150.67" y1="600.30" x2="150.67" y2="622.50" stroke="#808080" stroke-width="1.0"/>
<line x1="151.48" y1="600.30" x2="151.48" y2="622.50" stroke="#7d7d7d" stroke-width="1.0"/>
<line x1="152.51" y1="600.30" x2="152.51" y2="622.50" stroke="#2a2a2a" stroke-width="1.0"/>
<line x1="153.35" y1="600.30" x2="153.35" y2="622.50" stroke="#282828" stroke-width="1.0"/>
<line x1="154.24" y1="600.30" x2="154.24" y2="622.50" stroke="#323232" stroke-width="1.0"/>
<line x1="155.12" y1="600.30" x2="155.12" y2="622.50" stroke="#353535" stroke-width="1.0"/>
<line x1="155.84" y1="600.30" x2="155.84" y2="622.50" stroke="#252525" stroke-width="1.0"/>
<line x1="156.77" y1="600.30" x2="156.77" y2="622.50" stroke="#111111" stroke-width="1.0"/>
<line x1="157.79" y1="600.30" x2="157.79" y2="622.50" stroke="#363636" stroke-width="1.0"/>
<line x1="158.72" y1="600.30" x2="158.72" y2="622.50" stroke="#1a1a1a" stroke-width="1.0"/>
<line x1="159.67" y1="600.30" x2="159.67" y2="622.50" stroke="#242424" stroke-width="1.0"/>
<line x1="161.79" y1="600.30" x2="161.79" y2="622.50" stroke="#a4a4a4" stroke-width="1.0"/>
<line x1="162.44" y1="600.30" x2="162.44" y2="622.50" stroke="#a9a9a9" stroke-width="1.0"/>
<line x1="163.14" y1="600.30" x2="163.14" y2="622.50" stroke="#797979" stroke-width="1.0"/>
<line x1="163.87" y1="600.30" x2="163.87" y2="622.50" stroke="#5c5c5c" stroke-width="1.0"/>
<line x1="164.49" y1="600.30" x2="164.49" y2="622.50" stroke="#7d7d7d" stroke-width="1.0"/>
<line x1="165.58" y1="600.30" x2="165.58" y2="622.50" stroke="#5a5a5a" stroke-width="1.0"/>
<line x1="166.35" y1="600.30" x2="166.35" y2="622.50" stroke="#595959" stroke-width="1.0"/>
<line x1="167.15" y1="600.30" x2="167.15" y2="622.50" stroke="#5e5e5e" stroke-width="1.0"/>
<line x1="167.76" y1="600.30" x2="167.76" y2="622.50" stroke="#707070" stroke-width="1.0"/>
<line x1="169.77" y1="600.30" x2="169.77" y2="622.50" stroke="#121212" stroke-width="1.0"/>
<line x1="170.66" y1="600.30" x2="170.66" y2="622.50" stroke="#828282" stroke-width="1.0"/>
<line x1="171.45" y1="600.30" x2="171.45" y2="622.50" stroke="#a5a5a5" stroke-width="1.0"/>
<line x1="172.21" y1="600.30" x2="172.21" y2="622.50" stroke="#919191" stroke-width="1.0"/>
<line x1="173.06" y1="600.30" x2="173.06" y2="622.50" stroke="#828282" stroke-width="1.0"/>
<line x1="173.81" y1="600.30" x2="173.81" y2="622.50" stroke="#141414" stroke-width="1.0"/>
<line x1="174.46" y1="600.30" x2="174.46" y2="622.50" stroke="#323232" stroke-width="1.0"/>
<line x1="175.07" y1="600.30" x2="175.07" y2="622.50" stroke="#1c1c1c" stroke-width="1.0"/>
<line x1="177.62" y1="600.30" x2="177.62" y2="622.50" stroke="#3c3c3c" stroke-width="1.0"/>
<line x1="178.23" y1="600.30" x2="178.23" y2="622.50" stroke="#474747" stroke-width="1.0"/>
<line x1="179.00" y1="600.30" x2="179.00" y2="622.50" stroke="#272727" stroke-width="1.0"/>
<line x1="180.07" y1="600.30" x2="180.07" y2="622.50" stroke="#474747" stroke-width="1.0"/>
<line x1="180.85" y1="600.30" x2="180.85" y2="622.50" stroke="#2d2d2d" stroke-width="1.0"/>
<line x1="181.88" y1="600.30" x2="181.88" y2="622.50" stroke="#282828" stroke-width="1.0"/>
<line x1="182.80" y1="600.30" x2="182.80" y2="622.50" stroke="#363636" stroke-width="1.0"/>
<line x1="183.73" y1="600.30" x2="183.73" y2="622.50" stroke="#161616" stroke-width="1.0"/>
<line x1="184.64" y1="600.30" x2="184.64" y2="622.50" stroke="#434343" stroke-width="1.0"/>
<line x1="185.49" y1="600.30" x2="185.49" y2="622.50" stroke="#2b2b2b" stroke-width="1.0"/>
<line x1="186.40" y1="600.30" x2="186.40" y2="622.50" stroke="#3d3d3d" stroke-width="1.0"/>
<rect x="38.60" y="622.50" width="27.04" height="6.00" fill="#e65a5a"/>
<rect x="65.64" y="622.50" width="14.91" height="6.00" fill="#ea6c78"/>
<rect x="80.55" y="622.50" width="12.92" height="6.00" fill="#ee8088"/>
<rect x="93.47" y="622.50" width="7.95" height="6.00" fill="#eeb0d8"/>
<rect x="101.42" y="622.50" width="8.95" height="6.00" fill="#eec0e4"/>
<rect x="110.36" y="622.50" width="14.91" height="6.00" fill="#d0d0f8"/>
<rect x="125.27" y="622.50" width="13.92" height="6.00" fill="#c2c2f4"/>
<rect x="139.19" y="622.50" width="10.93" height="6.00" fill="#8c8cee"/>
<rect x="150.12" y="622.50" width="9.94" height="6.00" fill="#7878ea"/>
<rect x="160.06" y="622.50" width="9.94" height="6.00" fill="#6464e2"/>
<rect x="170.00" y="622.50" width="7.45" height="6.00" fill="#5858dc"/>
<rect x="177.46" y="622.50" width="9.44" height="6.00" fill="#1c1cae"/>
<path d="M38.50,531.40 L40.29,532.91 L41.78,533.92 L43.27,533.42 L45.46,534.73 L46.75,536.25 L48.24,536.75 L49.73,537.96 L52.71,539.98 L56.69,542.30 L60.67,545.03 L66.13,548.56 L70.61,551.19 L75.58,553.91 L80.55,556.84 L85.51,559.87 L90.48,563.00 L95.45,566.33 L100.42,569.56 L104.70,572.49 L110.36,577.33 L115.33,581.88 L120.30,586.42 L123.29,589.14 L126.76,591.57 L130.24,592.27 L134.22,592.47 L137.20,594.19 L139.19,595.00 L141.18,593.99 L142.67,594.49 L144.66,593.18 L147.14,594.19 L150.12,594.59 L153.01,595.00 L155.09,593.18 L157.08,591.47 L159.57,590.15 L161.55,587.73 L164.04,585.11 L166.03,585.41 L167.52,582.08 L169.51,578.64 L171.49,578.34 L172.98,577.43 L174.48,575.01 L176.36,572.49 L177.46,570.27 L178.75,566.73 L179.74,562.69 L180.54,558.45 L181.43,556.03 L182.23,551.59 L183.32,544.52 L184.42,539.98 L185.41,535.94 L186.20,532.91 L186.90,530.39" stroke="#62ec3c" stroke-width="1.3" fill="none" stroke-linejoin="round"/>
<text x="120.60" y="513.93" font-size="10.1" text-anchor="middle">MYC targets V1</text>
<text x="18.10" y="563.83" font-size="7.8" text-anchor="middle" transform="rotate(-90 18.10 561.10)">Enrichment score</text>
<text x="48.30" y="583.23" font-size="7.8">NES -2.89</text>
<text x="48.30" y="592.73" font-size="7.8">FDR 0.0</text>
<text x="40.50" y="637.76" font-size="7.9">Ro + GSK-591</text>
<text x="159.80" y="637.76" font-size="7.9">GSK591</text>
<text x="338.20" y="510.04" font-size="10.1" text-anchor="middle">RNA-seq Log2FC</text>
<line x1="297.60" y1="539.00" x2="393.00" y2="539.00" stroke="#000" stroke-width="1.3"/>
<line x1="298.00" y1="539.00" x2="298.00" y2="536.50" stroke="#000" stroke-width="1"/>
<text x="298.00" y="534.24" font-size="6.4" text-anchor="middle">-2</text>
<line x1="321.75" y1="539.00" x2="321.75" y2="536.50" stroke="#000" stroke-width="1"/>
<text x="321.75" y="534.24" font-size="6.4" text-anchor="middle">-1</text>
<line x1="345.50" y1="539.00" x2="345.50" y2="536.50" stroke="#000" stroke-width="1"/>
<text x="345.50" y="534.24" font-size="6.4" text-anchor="middle">0</text>
<line x1="369.25" y1="539.00" x2="369.25" y2="536.50" stroke="#000" stroke-width="1"/>
<text x="369.25" y="534.24" font-size="6.4" text-anchor="middle">1</text>
<line x1="393.00" y1="539.00" x2="393.00" y2="536.50" stroke="#000" stroke-width="1"/>
<text x="393.00" y="534.24" font-size="6.4" text-anchor="middle">2</text>
<line x1="298.10" y1="539.00" x2="298.10" y2="689.10" stroke="#000" stroke-width="1.3"/>
<line x1="345.50" y1="539.00" x2="345.50" y2="689.10" stroke="#000" stroke-width="1.3"/>
<line x1="295.60" y1="553.00" x2="298.10" y2="553.00" stroke="#000" stroke-width="1"/>
<text x="294.60" y="555.24" font-size="6.4" text-anchor="end">CCNB1</text>
<line x1="295.60" y1="583.70" x2="298.10" y2="583.70" stroke="#000" stroke-width="1"/>
<text x="294.60" y="585.94" font-size="6.4" text-anchor="end">CDK4</text>
<line x1="295.60" y1="614.40" x2="298.10" y2="614.40" stroke="#000" stroke-width="1"/>
<text x="294.60" y="616.64" font-size="6.4" text-anchor="end">CHK1</text>
<line x1="295.60" y1="645.10" x2="298.10" y2="645.10" stroke="#000" stroke-width="1"/>
<text x="294.60" y="647.34" font-size="6.4" text-anchor="end">MDM2</text>
<line x1="295.60" y1="675.80" x2="298.10" y2="675.80" stroke="#000" stroke-width="1"/>
<text x="294.60" y="678.04" font-size="6.4" text-anchor="end">RAD51</text>
<rect x="345.50" y="543.20" width="13.80" height="7.50" fill="#1535fb"/>
<rect x="328.90" y="573.60" width="16.60" height="7.90" fill="#1535fb"/>
<rect x="332.00" y="604.90" width="13.50" height="7.70" fill="#1535fb"/>
<rect x="345.50" y="636.00" width="6.80" height="7.00" fill="#1535fb"/>
<rect x="327.00" y="666.80" width="18.50" height="6.80" fill="#1535fb"/>
<rect x="345.50" y="554.90" width="6.80" height="7.00" fill="#000"/>
<rect x="342.20" y="586.20" width="3.30" height="6.50" fill="#000"/>
<rect x="339.90" y="617.30" width="5.60" height="6.50" fill="#000"/>
<rect x="342.20" y="647.60" width="3.30" height="7.00" fill="#000"/>
<rect x="331.00" y="678.10" width="14.50" height="7.40" fill="#000"/>
<text x="360.00" y="549.26" font-size="7.9" font-style="italic">5.57E-06</text>
<text x="353.40" y="560.97" font-size="7.9">ns</text>
<text x="348.30" y="580.37" font-size="7.9" font-style="italic">8.16E-05</text>
<text x="339.40" y="591.97" font-size="7.9" text-anchor="end">ns</text>
<text x="328.40" y="611.76" font-size="7.9" text-anchor="end" font-style="italic">0.00012</text>
<text x="335.90" y="623.56" font-size="7.9" text-anchor="end">ns</text>
<text x="354.60" y="642.26" font-size="7.9" font-style="italic">0.092</text>
<text x="339.40" y="653.47" font-size="7.9" text-anchor="end">ns</text>
<text x="347.20" y="672.97" font-size="7.9" font-style="italic">3.52E-06</text>
<text x="327.80" y="684.76" font-size="7.9" text-anchor="end" font-style="italic">0.00081</text>
<rect x="311.20" y="701.00" width="8.70" height="5.20" fill="#000"/>
<text x="331.50" y="705.26" font-size="7.9">Ro</text>
<rect x="349.30" y="701.00" width="7.90" height="5.20" fill="#1535fb"/>
<text x="370.40" y="705.76" font-size="7.9">GSK-591 + Ro</text>
<text x="571.70" y="508.34" font-size="10.1" text-anchor="middle">Z-138 cells</text>
<text x="534.70" y="531.80" font-size="7.7" text-anchor="end">GSK-591</text>
<text x="534.70" y="544.10" font-size="7.7" text-anchor="end">Ro</text>
<rect x="545.60" y="529.40" width="3.80" height="1.25" fill="#111"/>
<rect x="564.00" y="529.90" width="5.60" height="1.20" fill="#111"/>
<rect x="566.20" y="527.70" width="1.20" height="5.60" fill="#111"/>
<rect x="584.00" y="529.40" width="3.80" height="1.25" fill="#111"/>
<rect x="601.30" y="530.80" width="5.60" height="1.20" fill="#111"/>
<rect x="603.50" y="528.60" width="1.20" height="5.60" fill="#111"/>
<rect x="545.40" y="540.80" width="3.80" height="1.25" fill="#111"/>
<rect x="565.50" y="540.80" width="3.80" height="1.25" fill="#111"/>
<rect x="583.00" y="540.10" width="5.60" height="1.20" fill="#111"/>
<rect x="585.20" y="537.90" width="1.20" height="5.60" fill="#111"/>
<rect x="600.90" y="541.80" width="5.60" height="1.20" fill="#111"/>
<rect x="603.10" y="539.60" width="1.20" height="5.60" fill="#111"/>
<defs><filter id="bl" x="-30%" y="-150%" width="160%" height="400%"><feGaussianBlur stdDeviation="0.8 0.7"/></filter><filter id="bl2" x="-30%" y="-50%" width="160%" height="200%"><feGaussianBlur stdDeviation="1.2 0.5"/></filter></defs>
<rect x="538.10" y="547.50" width="76.60" height="20.70" fill="#f4f4f4"/>
<rect x="556.00" y="547.50" width="3.6" height="20.70" fill="#fafafa" filter="url(#bl2)"/>
<rect x="574.50" y="547.50" width="3.6" height="20.70" fill="#fafafa" filter="url(#bl2)"/>
<rect x="593.40" y="547.50" width="3.6" height="20.70" fill="#fafafa" filter="url(#bl2)"/>
<rect x="538.30" y="555.50" width="1.70" height="3.00" rx="1.50" fill="#333" opacity="1.0" filter="url(#bl)"/>
<rect x="560.90" y="557.70" width="13.80" height="2.60" rx="1.30" fill="#9a9a9a" opacity="1.0" filter="url(#bl)"/>
<rect x="578.90" y="558.05" width="12.90" height="2.30" rx="1.15" fill="#b0b0b0" opacity="1.0" filter="url(#bl)"/>
<rect x="595.30" y="555.30" width="16.80" height="5.60" rx="2.80" fill="#050505" opacity="1.0" filter="url(#bl)"/>
<rect x="538.10" y="547.50" width="76.60" height="20.70" fill="none" stroke="#4a4a4a" stroke-width="0.9"/>
<rect x="538.10" y="572.20" width="76.60" height="20.10" fill="#ececec"/>
<rect x="556.00" y="572.20" width="3.6" height="20.10" fill="#f4f4f4" filter="url(#bl2)"/>
<rect x="574.50" y="572.20" width="3.6" height="20.10" fill="#f4f4f4" filter="url(#bl2)"/>
<rect x="593.40" y="572.20" width="3.6" height="20.10" fill="#f4f4f4" filter="url(#bl2)"/>
<rect x="538.30" y="572.50" width="2.10" height="5.00" rx="2.50" fill="#222" opacity="1.0" filter="url(#bl)"/>
<rect x="541.60" y="581.00" width="15.40" height="2.60" rx="1.30" fill="#8a8a8a" opacity="1.0" filter="url(#bl)"/>
<rect x="560.50" y="580.50" width="14.80" height="3.00" rx="1.50" fill="#1e1e1e" opacity="1.0" filter="url(#bl)"/>
<rect x="579.30" y="580.40" width="9.80" height="3.00" rx="1.50" fill="#1a1a1a" opacity="1.0" filter="url(#bl)"/>
<rect x="588.00" y="581.80" width="8.00" height="1.20" rx="0.60" fill="#b0b0b0" opacity="1.0" filter="url(#bl)"/>
<rect x="596.70" y="580.00" width="15.40" height="6.00" rx="3.00" fill="#050505" opacity="1.0" filter="url(#bl)"/>
<rect x="538.10" y="572.20" width="76.60" height="20.10" fill="none" stroke="#4a4a4a" stroke-width="0.9"/>
<rect x="538.10" y="595.30" width="76.60" height="19.90" fill="#d6d6d6"/>
<rect x="556.00" y="595.30" width="3.6" height="19.90" fill="#e8e8e8" filter="url(#bl2)"/>
<rect x="574.50" y="595.30" width="3.6" height="19.90" fill="#e8e8e8" filter="url(#bl2)"/>
<rect x="593.40" y="595.30" width="3.6" height="19.90" fill="#e8e8e8" filter="url(#bl2)"/>
<rect x="541.20" y="602.10" width="15.10" height="3.20" rx="1.60" fill="#151515" opacity="1.0" filter="url(#bl)"/>
<rect x="541.20" y="606.20" width="15.10" height="3.40" rx="1.70" fill="#111" opacity="1.0" filter="url(#bl)"/>
<rect x="559.20" y="601.70" width="15.50" height="3.60" rx="1.80" fill="#0e0e0e" opacity="1.0" filter="url(#bl)"/>
<rect x="559.20" y="606.10" width="15.50" height="3.60" rx="1.80" fill="#0a0a0a" opacity="1.0" filter="url(#bl)"/>
<rect x="578.00" y="602.10" width="15.00" height="3.20" rx="1.60" fill="#181818" opacity="1.0" filter="url(#bl)"/>
<rect x="578.00" y="606.30" width="15.00" height="3.20" rx="1.60" fill="#1a1a1a" opacity="1.0" filter="url(#bl)"/>
<rect x="597.00" y="602.70" width="15.80" height="2.60" rx="1.30" fill="#404040" opacity="1.0" filter="url(#bl)"/>
<rect x="597.00" y="606.90" width="15.80" height="2.60" rx="1.30" fill="#555" opacity="1.0" filter="url(#bl)"/>
<rect x="538.10" y="595.30" width="76.60" height="19.90" fill="none" stroke="#4a4a4a" stroke-width="0.9"/>
<rect x="538.10" y="619.60" width="76.60" height="20.70" fill="#acacac"/>
<rect x="556.00" y="619.60" width="3.6" height="20.70" fill="#c4c4c4" filter="url(#bl2)"/>
<rect x="574.50" y="619.60" width="3.6" height="20.70" fill="#c4c4c4" filter="url(#bl2)"/>
<rect x="593.40" y="619.60" width="3.6" height="20.70" fill="#c4c4c4" filter="url(#bl2)"/>
<rect x="541.20" y="629.40" width="15.10" height="2.60" rx="1.30" fill="#1c1c1c" opacity="1.0" filter="url(#bl)"/>
<rect x="559.20" y="628.90" width="15.50" height="3.60" rx="1.80" fill="#050505" opacity="1.0" filter="url(#bl)"/>
<rect x="578.50" y="629.70" width="14.00" height="2.20" rx="1.10" fill="#3a3a3a" opacity="1.0" filter="url(#bl)"/>
<rect x="597.50" y="630.00" width="15.00" height="2.00" rx="1.00" fill="#5a5a5a" opacity="1.0" filter="url(#bl)"/>
<rect x="538.10" y="619.60" width="76.60" height="20.70" fill="none" stroke="#4a4a4a" stroke-width="0.9"/>
<rect x="538.10" y="643.60" width="76.60" height="21.60" fill="#ececec"/>
<rect x="556.00" y="643.60" width="3.6" height="21.60" fill="#f8f8f8" filter="url(#bl2)"/>
<rect x="574.50" y="643.60" width="3.6" height="21.60" fill="#f8f8f8" filter="url(#bl2)"/>
<rect x="593.40" y="643.60" width="3.6" height="21.60" fill="#f8f8f8" filter="url(#bl2)"/>
<rect x="541.60" y="653.60" width="14.70" height="2.80" rx="1.40" fill="#7a7a7a" opacity="1.0" filter="url(#bl)"/>
<rect x="559.80" y="652.90" width="15.20" height="3.00" rx="1.50" fill="#6e6e6e" opacity="1.0" filter="url(#bl)"/>
<rect x="578.60" y="654.10" width="14.40" height="2.20" rx="1.10" fill="#a8a8a8" opacity="1.0" filter="url(#bl)"/>
<rect x="597.00" y="654.10" width="15.50" height="2.60" rx="1.30" fill="#8a8a8a" opacity="1.0" filter="url(#bl)"/>
<rect x="541.60" y="649.20" width="14.70" height="1.20" rx="0.60" fill="#dadada" opacity="1.0" filter="url(#bl)"/>
<rect x="559.80" y="649.00" width="15.20" height="1.20" rx="0.60" fill="#d0d0d0" opacity="1.0" filter="url(#bl)"/>
<rect x="578.60" y="649.20" width="14.40" height="1.20" rx="0.60" fill="#dddddd" opacity="1.0" filter="url(#bl)"/>
<rect x="597.00" y="649.20" width="15.50" height="1.20" rx="0.60" fill="#d6d6d6" opacity="1.0" filter="url(#bl)"/>
<rect x="538.10" y="643.60" width="76.60" height="21.60" fill="none" stroke="#4a4a4a" stroke-width="0.9"/>
<rect x="538.10" y="668.30" width="76.60" height="21.30" fill="#b6b6b6"/>
<rect x="556.00" y="668.30" width="3.6" height="21.30" fill="#d0d0d0" filter="url(#bl2)"/>
<rect x="574.50" y="668.30" width="3.6" height="21.30" fill="#d0d0d0" filter="url(#bl2)"/>
<rect x="593.40" y="668.30" width="3.6" height="21.30" fill="#d0d0d0" filter="url(#bl2)"/>
<rect x="541.50" y="678.90" width="15.00" height="1.60" rx="0.80" fill="#a4a4a4" opacity="1.0" filter="url(#bl)"/>
<rect x="541.50" y="682.20" width="15.00" height="1.60" rx="0.80" fill="#a8a8a8" opacity="1.0" filter="url(#bl)"/>
<rect x="560.00" y="678.90" width="15.00" height="1.60" rx="0.80" fill="#a0a0a0" opacity="1.0" filter="url(#bl)"/>
<rect x="560.00" y="682.20" width="15.00" height="1.60" rx="0.80" fill="#a6a6a6" opacity="1.0" filter="url(#bl)"/>
<rect x="578.50" y="679.20" width="14.50" height="1.60" rx="0.80" fill="#a2a2a2" opacity="1.0" filter="url(#bl)"/>
<rect x="578.50" y="682.40" width="14.50" height="1.60" rx="0.80" fill="#a8a8a8" opacity="1.0" filter="url(#bl)"/>
<rect x="597.00" y="679.50" width="14.50" height="3.00" rx="1.50" fill="#141414" opacity="1.0" filter="url(#bl)"/>
<rect x="597.00" y="683.20" width="14.50" height="1.60" rx="0.80" fill="#505050" opacity="1.0" filter="url(#bl)"/>
<rect x="597.00" y="682.90" width="3.00" height="3.00" rx="1.50" fill="#222" opacity="1.0" filter="url(#bl)"/>
<rect x="538.10" y="668.30" width="76.60" height="21.30" fill="none" stroke="#4a4a4a" stroke-width="0.9"/>
<defs><linearGradient id="rg" x1="0" y1="0" x2="1" y2="0"><stop offset="0" stop-color="#f0f0f0"/><stop offset="0.06" stop-color="#d2d2d2"/><stop offset="1" stop-color="#bcbcbc"/></linearGradient></defs>
<rect x="538.10" y="694.20" width="76.60" height="21.40" fill="url(#rg)"/>
<rect x="556.00" y="694.20" width="3.6" height="21.40" fill="#e8e8e8" filter="url(#bl2)"/>
<rect x="574.50" y="694.20" width="3.6" height="21.40" fill="#e8e8e8" filter="url(#bl2)"/>
<rect x="593.40" y="694.20" width="3.6" height="21.40" fill="#e8e8e8" filter="url(#bl2)"/>
<rect x="543.10" y="703.40" width="12.50" height="4.00" rx="2.00" fill="#020202" opacity="1.0" filter="url(#bl)"/>
<rect x="546.50" y="706.30" width="4.00" height="3.00" rx="1.50" fill="#222" opacity="1.0" filter="url(#bl)"/>
<rect x="560.20" y="704.20" width="12.50" height="2.80" rx="1.40" fill="#161616" opacity="1.0" filter="url(#bl)"/>
<rect x="576.60" y="704.00" width="15.20" height="2.80" rx="1.40" fill="#1a1a1a" opacity="1.0" filter="url(#bl)"/>
<rect x="597.00" y="704.30" width="13.80" height="2.60" rx="1.30" fill="#7a7a7a" opacity="1.0" filter="url(#bl)"/>
<rect x="538.10" y="694.20" width="76.60" height="21.40" fill="none" stroke="#4a4a4a" stroke-width="0.9"/>
<defs><linearGradient id="ag" x1="0" y1="0" x2="0" y2="1"><stop offset="0" stop-color="#c4c4c4"/><stop offset="0.45" stop-color="#a4a4a4"/><stop offset="1" stop-color="#7c7c7c"/></linearGradient></defs>
<rect x="538.10" y="719.20" width="76.60" height="23.40" fill="url(#ag)"/>
<rect x="556.00" y="719.20" width="3.6" height="23.40" fill="#d8d8d8" filter="url(#bl2)"/>
<rect x="574.50" y="719.20" width="3.6" height="23.40" fill="#d8d8d8" filter="url(#bl2)"/>
<rect x="593.40" y="719.20" width="3.6" height="23.40" fill="#d8d8d8" filter="url(#bl2)"/>
<rect x="540.50" y="730.90" width="16.50" height="3.40" rx="1.70" fill="#0c0c0c" opacity="1.0" filter="url(#bl)"/>
<rect x="559.00" y="730.40" width="16.50" height="4.40" rx="2.20" fill="#030303" opacity="1.0" filter="url(#bl)"/>
<rect x="577.50" y="731.00" width="16.50" height="3.20" rx="1.60" fill="#0e0e0e" opacity="1.0" filter="url(#bl)"/>
<rect x="596.50" y="730.90" width="16.50" height="3.40" rx="1.70" fill="#0a0a0a" opacity="1.0" filter="url(#bl)"/>
<rect x="538.10" y="719.20" width="76.60" height="23.40" fill="none" stroke="#4a4a4a" stroke-width="0.9"/>
<text x="509.20" y="559.25" font-size="7.0">50  KDa</text>
<text x="509.20" y="578.25" font-size="7.0">20  KDa</text>
<text x="510.50" y="606.95" font-size="7.0">37 KDa</text>
<text x="509.80" y="627.95" font-size="7.0">37  KDa</text>
<text x="510.20" y="659.05" font-size="7.0">37 KDa</text>
<text x="510.50" y="675.45" font-size="7.0">75 KDa</text>
<text x="510.50" y="688.25" font-size="7.0">50 KDa</text>
<text x="513.50" y="709.75" font-size="7.0">37 KDa</text>
<text x="512.00" y="738.45" font-size="7.0">37 KDa</text>
<text x="618.10" y="559.50" font-size="8.0">P53</text>
<text x="618.10" y="584.80" font-size="8.0">P21</text>
<text x="618.10" y="609.20" font-size="8.0">CYCLIN B1</text>
<text x="618.10" y="633.00" font-size="8.0">CDK4</text>
<text x="618.10" y="659.40" font-size="8.0">CHK1</text>
<text x="618.10" y="685.10" font-size="8.0">MDM2</text>
<text x="618.10" y="708.40" font-size="8.0">RAD51</text>
<text x="618.10" y="734.80" font-size="8.0">&#946;-ACTIN</text>
</svg></body></html>
